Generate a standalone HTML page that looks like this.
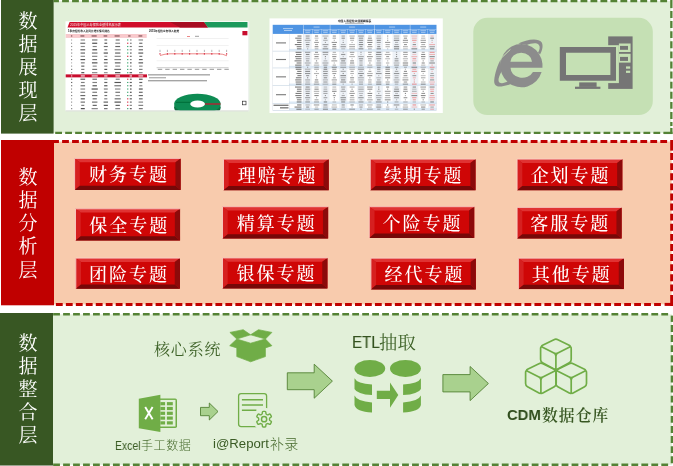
<!DOCTYPE html>
<html lang="zh"><head><meta charset="utf-8"><title>数据分层架构</title>
<style>
html,body{margin:0;padding:0;background:#fff}
body{width:673px;height:466px;position:relative;overflow:hidden;font-family:"Liberation Sans","Noto Sans CJK SC",sans-serif}
svg{position:absolute;left:0;top:0;display:block}
.sd,.bt,.tx{will-change:transform}
.sd{position:absolute;width:30px;height:23px;line-height:23px;text-align:center;color:#fff;font-size:19px;font-family:"Liberation Serif","Noto Serif CJK SC",serif;font-weight:400}
.bt{position:absolute;text-align:center;color:#fff;font-size:18px;font-family:"Liberation Serif","Noto Serif CJK SC",serif;font-weight:500;letter-spacing:2px;text-indent:2px;white-space:nowrap}
.tx{position:absolute;white-space:nowrap;line-height:1}
.song{font-family:"Liberation Serif","Noto Serif CJK SC",serif}
.lat{-webkit-text-stroke:0.18px currentColor}
.hei{font-family:"Liberation Sans","Noto Sans CJK SC",sans-serif}
</style></head><body>
<svg width="673" height="466" viewBox="0 0 673 466">
<rect x="53" y="1.1" width="618.35" height="131.8" fill="#E2F0D9"/>
<rect x="53" y="141.5" width="618.6" height="162.9" fill="#F8CBAD"/>
<rect x="53" y="314.35" width="618.85" height="150.45" fill="#E2F0D9"/>
<line x1="53.5" y1="1.1" x2="668.2" y2="1.1" stroke="#548235" stroke-width="2.4" stroke-dasharray="6.8 3.17" stroke-dashoffset="1.37"/>
<rect x="670.2" y="0" width="2.3" height="8.1" fill="#548235"/>
<line x1="671.35" y1="9" x2="671.35" y2="126" stroke="#548235" stroke-width="2.3" stroke-dasharray="6.9 3.2" stroke-dashoffset="8.1"/>
<line x1="53.5" y1="132.9" x2="664" y2="132.9" stroke="#548235" stroke-width="2.3" stroke-dasharray="6.8 3.17" stroke-dashoffset="8.27"/>
<rect x="664" y="131.75" width="8.5" height="2.3" fill="#548235"/>
<rect x="670.2" y="128" width="2.3" height="6" fill="#548235"/>
<line x1="53.5" y1="141.5" x2="669.2" y2="141.5" stroke="#C00000" stroke-width="3" stroke-dasharray="6.8 3.17" stroke-dashoffset="1.37"/>
<rect x="670.2" y="140" width="2.8" height="10.6" fill="#C00000"/>
<line x1="671.6" y1="152" x2="671.6" y2="294" stroke="#C00000" stroke-width="2.8" stroke-dasharray="6.9 3.2" stroke-dashoffset="9"/>
<line x1="53.5" y1="304.4" x2="663" y2="304.4" stroke="#C00000" stroke-width="3" stroke-dasharray="6.8 3.17" stroke-dashoffset="7.57"/>
<rect x="664.6" y="302.9" width="8.4" height="3" fill="#C00000"/>
<rect x="670.2" y="295" width="2.8" height="11" fill="#C00000"/>
<line x1="53" y1="314.35" x2="670.3" y2="314.35" stroke="#548235" stroke-width="2.5" stroke-dasharray="6.8 3.17" stroke-dashoffset="9.83"/>
<rect x="670.7" y="315.6" width="2.3" height="6.3" fill="#548235"/>
<line x1="671.85" y1="323" x2="671.85" y2="463.2" stroke="#548235" stroke-width="2.3" stroke-dasharray="6.9 3.2" stroke-dashoffset="8.1"/>
<line x1="53" y1="464.8" x2="670.2" y2="464.8" stroke="#548235" stroke-width="2.4" stroke-dasharray="6.8 3.17" stroke-dashoffset="9.83"/>
<rect x="1" y="0" width="52.6" height="133.6" fill="#385723"/>
<rect x="1" y="140" width="53" height="165.3" fill="#C00000"/>
<rect x="0" y="313" width="53" height="152.2" fill="#385723"/>
<rect x="0" y="465" width="53" height="1" fill="#9aa58f"/>
<rect x="473.3" y="17.8" width="179.5" height="97.2" rx="14" ry="14" fill="#C5E0B4"/>
<g fill="#757575">
<rect x="608.2" y="36.4" width="24.4" height="52.5"/>
</g>
<g fill="#C5E0B4">
<rect x="606" y="45.2" width="12.9" height="37.9"/>
<rect x="618.9" y="43.5" width="11.7" height="8.5"/>
<rect x="618.9" y="53.8" width="11.7" height="8.8"/>
<rect x="626" y="66.4" width="4.2" height="2.3"/>
<rect x="626" y="70.7" width="4.2" height="2.2"/>
</g>
<g fill="#757575">
<rect x="620" y="45.9" width="8" height="3.9"/>
<rect x="620" y="56.9" width="8" height="4"/>
<path d="M559.8 47H616V80.7H559.8Z M566 52.7V75H610.4V52.7Z" fill-rule="evenodd"/>
<rect x="579.2" y="82.4" width="17.4" height="4.5"/>
<rect x="575" y="86.7" width="25.4" height="2.2"/>
</g>
<g transform="translate(490 36) scale(0.12)" fill="#8C8C8C">
<path d="M437 265H172A97 78 0 0 0 358 300H430A176 180 0 1 1 437 232Z M170 215A90 75 0 0 1 350 215Z" fill-rule="evenodd"/>
<path d="M84 194L170 112" stroke="#C5E0B4" stroke-width="8" fill="none"/>
<path d="M235 62C300 30 400 12 430 52C446 78 436 120 418 152L400 140C415 110 420 88 406 72C388 54 340 60 308 76Z"/>
<path d="M88 195C65 240 40 310 35 370C32 410 55 425 95 420C135 415 170 405 200 392L150 378C125 392 95 400 78 388C62 372 75 335 95 298Z"/>
</g>
<g fill="#70AD47" stroke="#70AD47" stroke-width="0.7" stroke-linejoin="round">
<path d="M229.9 332.4L243.2 329.7L250.6 334.8L236.8 339Z"/>
<path d="M250.6 334.8L258.5 329.7L271.9 332.4L265.4 339Z"/>
<path d="M236.8 339L250.6 343.2L265.4 339L271.9 345.7L265.4 347.9V356.6L250.6 361.8L236.8 356.6V347.9L229.7 345.7Z"/>
</g>
<g>
<rect x="158" y="398.4" width="19" height="29.6" rx="1.8" fill="#70AD47"/>
<rect x="160" y="399.9" width="15.5" height="26.6" fill="#E2F0D9"/>
<rect x="160.4" y="402.1" width="4.7" height="3.2" fill="#70AD47"/>
<rect x="166.9" y="402.1" width="5.9" height="3.2" fill="#70AD47"/>
<rect x="160.4" y="406.9" width="4.7" height="3.2" fill="#70AD47"/>
<rect x="166.9" y="406.9" width="5.9" height="3.2" fill="#70AD47"/>
<rect x="160.4" y="411.7" width="4.7" height="3.2" fill="#70AD47"/>
<rect x="166.9" y="411.7" width="5.9" height="3.2" fill="#70AD47"/>
<rect x="160.4" y="416.5" width="4.7" height="3.2" fill="#70AD47"/>
<rect x="166.9" y="416.5" width="5.9" height="3.2" fill="#70AD47"/>
<rect x="160.4" y="421.3" width="4.7" height="3.2" fill="#70AD47"/>
<rect x="166.9" y="421.3" width="5.9" height="3.2" fill="#70AD47"/>
<path d="M138.8 398.7L160.4 394.7V432L138.8 428.2Z" fill="#70AD47"/>
<path d="M145.2 407L152.6 419.2M152.6 407L145.2 419.2" stroke="#fff" stroke-width="1.9" fill="none"/>
</g>
<path d="M200.5 407.4H209.3V403L218 411.5L209.3 420V415.7H200.5Z" fill="#A9D18E" stroke="#548235" stroke-width="0.9"/>
<g fill="none" stroke="#70AD47" stroke-width="1.3">
<rect x="238.6" y="393.6" width="28" height="33" rx="2.5"/>
<path d="M241.9 399.8H263M241.9 405H263M241.9 410.2H256.4" stroke-width="1.4"/>
</g>
<circle cx="264.1" cy="419.2" r="11.4" fill="#E2F0D9"/>
<path d="M262.35 412.29Q262.35 411.39 263.25 411.39L264.95 411.39Q265.85 411.39 265.85 412.29L265.85 413.09Q265.85 413.99 266.63 414.44L266.96 414.62Q267.74 415.07 268.52 414.63L269.21 414.23Q269.99 413.78 270.44 414.56L271.28 416.03Q271.73 416.81 270.96 417.26L270.27 417.66Q269.49 418.11 269.49 419.01L269.49 419.39Q269.49 420.29 270.27 420.74L270.96 421.14Q271.73 421.59 271.28 422.37L270.44 423.84Q269.99 424.62 269.21 424.17L268.52 423.77Q267.74 423.33 266.96 423.78L266.63 423.96Q265.85 424.41 265.85 425.31L265.85 426.11Q265.85 427.01 264.95 427.01L263.25 427.01Q262.35 427.01 262.35 426.11L262.35 425.31Q262.35 424.41 261.57 423.96L261.24 423.78Q260.46 423.33 259.68 423.77L258.99 424.17Q258.21 424.62 257.76 423.84L256.92 422.37Q256.47 421.59 257.24 421.14L257.93 420.74Q258.71 420.29 258.71 419.39L258.71 419.01Q258.71 418.11 257.93 417.66L257.24 417.26Q256.47 416.81 256.92 416.03L257.76 414.56Q258.21 413.78 258.99 414.23L259.68 414.63Q260.46 415.07 261.24 414.62L261.57 414.44Q262.35 413.99 262.35 413.09Z" fill="none" stroke="#70AD47" stroke-width="1.4" stroke-linejoin="round"/>
<circle cx="264.1" cy="419.2" r="2.6" fill="none" stroke="#70AD47" stroke-width="1.5"/>
<path d="M287.3 372.8H314.2V364.2L332.4 381.1L314.2 398.2V389.7H287.3Z" fill="#A9D18E" stroke="#548235" stroke-width="0.9"/>
<path d="M442.9 374.6H470.1V366.5L488.4 383.5L470.1 400.6V391.9H442.9Z" fill="#A9D18E" stroke="#548235" stroke-width="0.9"/>
<g fill="#70AD47">
<ellipse cx="369.85" cy="368.5" rx="15.35" ry="8.5"/>
<ellipse cx="405.45" cy="368.5" rx="15.45" ry="8.5"/>
<path d="M354.5 378.3 Q357 383.6 372 384.4 V395.1 Q357 394.2 354.5 389 Z"/>
<path d="M354.5 395.5 Q357 401.4 372 402.4 V412.6 Q356 411.6 354.5 405 Z"/>
<path d="M420.9 378.3 Q418.4 383.6 403.1 384.4 V395.1 Q418.4 394.2 420.9 389 Z"/>
<path d="M420.9 395.5 Q418.4 401.4 403.1 402.4 V412.6 Q419.4 411.6 420.9 405 Z"/>
<path d="M376.8 390.7H390V382.4L398.3 394.9L390 407.8V399H376.8Z"/>
</g>
<g fill="none" stroke="#70AD47" stroke-width="1.7" stroke-linejoin="round" stroke-linecap="round">
<path d="M553.92 339.67Q555.9 338.7 557.88 339.67L569.22 345.23Q571.2 346.2 569.24 347.2L557.86 353Q555.9 354 553.94 353L542.56 347.2Q540.6 346.2 542.58 345.23ZM540.6 348.4Q540.6 346.2 542.56 347.2L553.94 353Q555.9 354 555.9 356.2L555.9 367.8Q555.9 370 553.97 368.95L542.53 362.75Q540.6 361.7 540.6 359.5ZM555.9 356.2Q555.9 354 557.86 353L569.24 347.2Q571.2 346.2 571.2 348.4L571.2 359.5Q571.2 361.7 569.27 362.75L557.83 368.95Q555.9 370 555.9 367.8Z"/>
<path d="M538.92 363.67Q540.9 362.7 542.88 363.67L554.22 369.23Q556.2 370.2 554.24 371.2L542.86 377Q540.9 378 538.94 377L527.56 371.2Q525.6 370.2 527.58 369.23ZM525.6 372.4Q525.6 370.2 527.56 371.2L538.94 377Q540.9 378 540.9 380.2L540.9 391.8Q540.9 394 538.97 392.95L527.53 386.75Q525.6 385.7 525.6 383.5ZM540.9 380.2Q540.9 378 542.86 377L554.24 371.2Q556.2 370.2 556.2 372.4L556.2 383.5Q556.2 385.7 554.27 386.75L542.83 392.95Q540.9 394 540.9 391.8Z"/>
<path d="M569.22 363.67Q571.2 362.7 573.18 363.67L584.52 369.23Q586.5 370.2 584.54 371.2L573.16 377Q571.2 378 569.24 377L557.86 371.2Q555.9 370.2 557.88 369.23ZM555.9 372.4Q555.9 370.2 557.86 371.2L569.24 377Q571.2 378 571.2 380.2L571.2 391.8Q571.2 394 569.27 392.95L557.83 386.75Q555.9 385.7 555.9 383.5ZM571.2 380.2Q571.2 378 573.16 377L584.54 371.2Q586.5 370.2 586.5 372.4L586.5 383.5Q586.5 385.7 584.57 386.75L573.13 392.95Q571.2 394 571.2 391.8Z"/>
</g>
<g>
<rect x="74.6" y="158.4" width="106.05" height="31.6" fill="#CF0606"/>
<path d="M74.6 158.4H180.65L175.45 162.2H79.8Z" fill="#E03232"/>
<path d="M74.6 158.4L79.8 162.2V185.7L74.6 190Z" fill="#D62020"/>
<path d="M74.6 190L79.8 185.7H175.45L180.65 190Z" fill="#760808"/>
<path d="M180.65 158.4L175.45 162.2V185.7L180.65 190Z" fill="#8C0A0A"/>
<path d="M74.6 190V158.4H180.65" fill="none" stroke="#F9D3CB" stroke-width="0.9"/>
</g>
<g>
<rect x="223.5" y="159.1" width="105.25" height="31.1" fill="#CF0606"/>
<path d="M223.5 159.1H328.75L323.55 162.9H228.7Z" fill="#E03232"/>
<path d="M223.5 159.1L228.7 162.9V185.9L223.5 190.2Z" fill="#D62020"/>
<path d="M223.5 190.2L228.7 185.9H323.55L328.75 190.2Z" fill="#760808"/>
<path d="M328.75 159.1L323.55 162.9V185.9L328.75 190.2Z" fill="#8C0A0A"/>
<path d="M223.5 190.2V159.1H328.75" fill="none" stroke="#F9D3CB" stroke-width="0.9"/>
</g>
<g>
<rect x="370.3" y="159.1" width="105.25" height="31.1" fill="#CF0606"/>
<path d="M370.3 159.1H475.55L470.35 162.9H375.5Z" fill="#E03232"/>
<path d="M370.3 159.1L375.5 162.9V185.9L370.3 190.2Z" fill="#D62020"/>
<path d="M370.3 190.2L375.5 185.9H470.35L475.55 190.2Z" fill="#760808"/>
<path d="M475.55 159.1L470.35 162.9V185.9L475.55 190.2Z" fill="#8C0A0A"/>
<path d="M370.3 190.2V159.1H475.55" fill="none" stroke="#F9D3CB" stroke-width="0.9"/>
</g>
<g>
<rect x="517.1" y="159.1" width="105.25" height="31.1" fill="#CF0606"/>
<path d="M517.1 159.1H622.35L617.15 162.9H522.3Z" fill="#E03232"/>
<path d="M517.1 159.1L522.3 162.9V185.9L517.1 190.2Z" fill="#D62020"/>
<path d="M517.1 190.2L522.3 185.9H617.15L622.35 190.2Z" fill="#760808"/>
<path d="M622.35 159.1L617.15 162.9V185.9L622.35 190.2Z" fill="#8C0A0A"/>
<path d="M517.1 190.2V159.1H622.35" fill="none" stroke="#F9D3CB" stroke-width="0.9"/>
</g>
<g>
<rect x="75.5" y="208.8" width="104.55" height="31.7" fill="#CF0606"/>
<path d="M75.5 208.8H180.05L174.85 212.6H80.7Z" fill="#E03232"/>
<path d="M75.5 208.8L80.7 212.6V236.2L75.5 240.5Z" fill="#D62020"/>
<path d="M75.5 240.5L80.7 236.2H174.85L180.05 240.5Z" fill="#760808"/>
<path d="M180.05 208.8L174.85 212.6V236.2L180.05 240.5Z" fill="#8C0A0A"/>
<path d="M75.5 240.5V208.8H180.05" fill="none" stroke="#F9D3CB" stroke-width="0.9"/>
</g>
<g>
<rect x="222.5" y="206.7" width="105.65" height="31.8" fill="#CF0606"/>
<path d="M222.5 206.7H328.15L322.95 210.5H227.7Z" fill="#E03232"/>
<path d="M222.5 206.7L227.7 210.5V234.2L222.5 238.5Z" fill="#D62020"/>
<path d="M222.5 238.5L227.7 234.2H322.95L328.15 238.5Z" fill="#760808"/>
<path d="M328.15 206.7L322.95 210.5V234.2L328.15 238.5Z" fill="#8C0A0A"/>
<path d="M222.5 238.5V206.7H328.15" fill="none" stroke="#F9D3CB" stroke-width="0.9"/>
</g>
<g>
<rect x="369.3" y="206.7" width="104.95" height="31.2" fill="#CF0606"/>
<path d="M369.3 206.7H474.25L469.05 210.5H374.5Z" fill="#E03232"/>
<path d="M369.3 206.7L374.5 210.5V233.6L369.3 237.9Z" fill="#D62020"/>
<path d="M369.3 237.9L374.5 233.6H469.05L474.25 237.9Z" fill="#760808"/>
<path d="M474.25 206.7L469.05 210.5V233.6L474.25 237.9Z" fill="#8C0A0A"/>
<path d="M369.3 237.9V206.7H474.25" fill="none" stroke="#F9D3CB" stroke-width="0.9"/>
</g>
<g>
<rect x="517.1" y="207.4" width="104.55" height="31.1" fill="#CF0606"/>
<path d="M517.1 207.4H621.65L616.45 211.2H522.3Z" fill="#E03232"/>
<path d="M517.1 207.4L522.3 211.2V234.2L517.1 238.5Z" fill="#D62020"/>
<path d="M517.1 238.5L522.3 234.2H616.45L621.65 238.5Z" fill="#760808"/>
<path d="M621.65 207.4L616.45 211.2V234.2L621.65 238.5Z" fill="#8C0A0A"/>
<path d="M517.1 238.5V207.4H621.65" fill="none" stroke="#F9D3CB" stroke-width="0.9"/>
</g>
<g>
<rect x="75.8" y="258.1" width="104.15" height="30.6" fill="#CF0606"/>
<path d="M75.8 258.1H179.95L174.75 261.9H81Z" fill="#E03232"/>
<path d="M75.8 258.1L81 261.9V284.4L75.8 288.7Z" fill="#D62020"/>
<path d="M75.8 288.7L81 284.4H174.75L179.95 288.7Z" fill="#760808"/>
<path d="M179.95 258.1L174.75 261.9V284.4L179.95 288.7Z" fill="#8C0A0A"/>
<path d="M75.8 288.7V258.1H179.95" fill="none" stroke="#F9D3CB" stroke-width="0.9"/>
</g>
<g>
<rect x="222.5" y="257.9" width="104.95" height="30.5" fill="#CF0606"/>
<path d="M222.5 257.9H327.45L322.25 261.7H227.7Z" fill="#E03232"/>
<path d="M222.5 257.9L227.7 261.7V284.1L222.5 288.4Z" fill="#D62020"/>
<path d="M222.5 288.4L227.7 284.1H322.25L327.45 288.4Z" fill="#760808"/>
<path d="M327.45 257.9L322.25 261.7V284.1L327.45 288.4Z" fill="#8C0A0A"/>
<path d="M222.5 288.4V257.9H327.45" fill="none" stroke="#F9D3CB" stroke-width="0.9"/>
</g>
<g>
<rect x="370.9" y="258.2" width="104.95" height="31.2" fill="#CF0606"/>
<path d="M370.9 258.2H475.85L470.65 262H376.1Z" fill="#E03232"/>
<path d="M370.9 258.2L376.1 262V285.1L370.9 289.4Z" fill="#D62020"/>
<path d="M370.9 289.4L376.1 285.1H470.65L475.85 289.4Z" fill="#760808"/>
<path d="M475.85 258.2L470.65 262V285.1L475.85 289.4Z" fill="#8C0A0A"/>
<path d="M370.9 289.4V258.2H475.85" fill="none" stroke="#F9D3CB" stroke-width="0.9"/>
</g>
<g>
<rect x="518.4" y="258.2" width="105.55" height="30.9" fill="#CF0606"/>
<path d="M518.4 258.2H623.95L618.75 262H523.6Z" fill="#E03232"/>
<path d="M518.4 258.2L523.6 262V284.8L518.4 289.1Z" fill="#D62020"/>
<path d="M518.4 289.1L523.6 284.8H618.75L623.95 289.1Z" fill="#760808"/>
<path d="M623.95 258.2L618.75 262V284.8L623.95 289.1Z" fill="#8C0A0A"/>
<path d="M518.4 289.1V258.2H623.95" fill="none" stroke="#F9D3CB" stroke-width="0.9"/>
</g>
<filter id="bl" x="-2%" y="-2%" width="104%" height="104%"><feGaussianBlur stdDeviation="0.38"/></filter>
<g id="t1" filter="url(#bl)">
<rect x="65.5" y="21.3" width="183" height="90" fill="#fff"/>
<rect x="248" y="21.3" width="1.4" height="90" fill="#eef3ee"/>
<path d="M67.5 27.4L69.6 22H204L208 27.4Z" fill="#D0112B"/>
<path d="M170 22H204L208 27.4H180Z" fill="#A70D22"/>
<path d="M204 22H247.5V27.4H208Z" fill="#1F9A5B"/>
<text x="70" y="26" font-size="3.15" fill="#fff" opacity="0.9" font-family="Liberation Sans,Noto Sans CJK SC,sans-serif">2015年中国人寿保险业绩排名展示表</text>
<text x="68" y="31.8" font-size="2.7" font-weight="bold" fill="#222" font-family="Liberation Sans,Noto Sans CJK SC,sans-serif">1季度保险收入及同比增长情况排名</text>
<text x="149" y="31.8" font-size="2.7" font-weight="bold" fill="#222" font-family="Liberation Sans,Noto Sans CJK SC,sans-serif">2015年保险业务收入趋势</text>
<rect x="65.7" y="34" width="81" height="3.9" fill="#F8C9CC"/>
<rect x="70.95" y="35.2" width="1.32" height="1.5" fill="#7a4a4e" opacity="0.75"/>
<rect x="80.4" y="35.2" width="3.96" height="1.5" fill="#7a4a4e" opacity="0.75"/>
<rect x="91.6" y="35.2" width="5.08" height="1.5" fill="#7a4a4e" opacity="0.75"/>
<rect x="103.6" y="35.2" width="3.64" height="1.5" fill="#7a4a4e" opacity="0.75"/>
<rect x="114.6" y="35.2" width="5.08" height="1.5" fill="#7a4a4e" opacity="0.75"/>
<rect x="128.2" y="35.2" width="2.36" height="1.5" fill="#7a4a4e" opacity="0.75"/>
<rect x="138.5" y="35.2" width="3.8" height="1.5" fill="#7a4a4e" opacity="0.75"/>
<rect x="71.31" y="39.4" width="0.78" height="1.15" fill="#333" opacity="0.6"/>
<rect x="80.65" y="39.4" width="4.31" height="1.15" fill="#333" opacity="0.58"/>
<rect x="91.99" y="39.4" width="5.42" height="1.15" fill="#333" opacity="0.68"/>
<rect x="104.41" y="39.4" width="2.77" height="1.15" fill="#333" opacity="0.73"/>
<rect x="115.69" y="39.4" width="4.02" height="1.15" fill="#333" opacity="0.7"/>
<rect x="129.99" y="39.4" width="1.62" height="1.15" fill="#333" opacity="0.58"/>
<rect x="127.2" y="39.4" width="1.1" height="1.15" fill="#1f9a5b"/>
<rect x="138.57" y="39.4" width="4.45" height="1.15" fill="#333" opacity="0.59"/>
<rect x="71.33" y="42.67" width="0.73" height="1.15" fill="#333" opacity="0.77"/>
<rect x="80.33" y="42.67" width="4.93" height="1.15" fill="#333" opacity="0.75"/>
<rect x="92.18" y="42.67" width="5.03" height="1.15" fill="#333" opacity="0.89"/>
<rect x="104.43" y="42.67" width="2.75" height="1.15" fill="#333" opacity="0.85"/>
<rect x="115.33" y="42.67" width="4.73" height="1.15" fill="#333" opacity="0.6"/>
<rect x="129.97" y="42.67" width="1.67" height="1.15" fill="#333" opacity="0.66"/>
<rect x="127.2" y="42.67" width="1.1" height="1.15" fill="#d0112b"/>
<rect x="139.22" y="42.67" width="3.16" height="1.15" fill="#333" opacity="0.75"/>
<rect x="71.24" y="45.94" width="0.92" height="1.15" fill="#333" opacity="0.68"/>
<rect x="80.75" y="45.94" width="4.09" height="1.15" fill="#333" opacity="0.57"/>
<rect x="92.66" y="45.94" width="4.09" height="1.15" fill="#333" opacity="0.62"/>
<rect x="103.82" y="45.94" width="3.95" height="1.15" fill="#333" opacity="0.7"/>
<rect x="115.3" y="45.94" width="4.8" height="1.15" fill="#333" opacity="0.75"/>
<rect x="129.78" y="45.94" width="2.04" height="1.15" fill="#333" opacity="0.65"/>
<rect x="127.2" y="45.94" width="1.1" height="1.15" fill="#1f9a5b"/>
<rect x="138.7" y="45.94" width="4.2" height="1.15" fill="#333" opacity="0.64"/>
<rect x="71.26" y="49.21" width="0.89" height="1.15" fill="#333" opacity="0.73"/>
<rect x="80.41" y="49.21" width="4.78" height="1.15" fill="#333" opacity="0.81"/>
<rect x="92.34" y="49.21" width="4.73" height="1.15" fill="#333" opacity="0.89"/>
<rect x="104.36" y="49.21" width="2.88" height="1.15" fill="#333" opacity="0.7"/>
<rect x="114.68" y="49.21" width="6.04" height="1.15" fill="#333" opacity="0.6"/>
<rect x="129.76" y="49.21" width="2.08" height="1.15" fill="#333" opacity="0.56"/>
<rect x="127.2" y="49.21" width="1.1" height="1.15" fill="#1f9a5b"/>
<rect x="138.64" y="49.21" width="4.33" height="1.15" fill="#333" opacity="0.75"/>
<rect x="71.19" y="52.48" width="1.02" height="1.15" fill="#333" opacity="0.66"/>
<rect x="80.6" y="52.48" width="4.4" height="1.15" fill="#333" opacity="0.76"/>
<rect x="91.93" y="52.48" width="5.54" height="1.15" fill="#333" opacity="0.71"/>
<rect x="103.67" y="52.48" width="4.26" height="1.15" fill="#333" opacity="0.88"/>
<rect x="115.08" y="52.48" width="5.25" height="1.15" fill="#333" opacity="0.78"/>
<rect x="130" y="52.48" width="1.61" height="1.15" fill="#333" opacity="0.8"/>
<rect x="127.2" y="52.48" width="1.1" height="1.15" fill="#1f9a5b"/>
<rect x="138.41" y="52.48" width="4.79" height="1.15" fill="#333" opacity="0.84"/>
<rect x="71.32" y="55.75" width="0.76" height="1.15" fill="#333" opacity="0.69"/>
<rect x="80.63" y="55.75" width="4.34" height="1.15" fill="#333" opacity="0.56"/>
<rect x="92.09" y="55.75" width="5.21" height="1.15" fill="#333" opacity="0.61"/>
<rect x="104.36" y="55.75" width="2.88" height="1.15" fill="#333" opacity="0.57"/>
<rect x="114.66" y="55.75" width="6.07" height="1.15" fill="#333" opacity="0.6"/>
<rect x="129.89" y="55.75" width="1.81" height="1.15" fill="#333" opacity="0.69"/>
<rect x="127.2" y="55.75" width="1.1" height="1.15" fill="#d0112b"/>
<rect x="139.32" y="55.75" width="2.96" height="1.15" fill="#333" opacity="0.71"/>
<rect x="71.26" y="59.02" width="0.88" height="1.15" fill="#333" opacity="0.86"/>
<rect x="80.47" y="59.02" width="4.66" height="1.15" fill="#333" opacity="0.85"/>
<rect x="92.35" y="59.02" width="4.7" height="1.15" fill="#333" opacity="0.7"/>
<rect x="104.13" y="59.02" width="3.34" height="1.15" fill="#333" opacity="0.86"/>
<rect x="114.4" y="59.02" width="6.6" height="1.15" fill="#333" opacity="0.6"/>
<rect x="129.93" y="59.02" width="1.73" height="1.15" fill="#333" opacity="0.63"/>
<rect x="127.2" y="59.02" width="1.1" height="1.15" fill="#1f9a5b"/>
<rect x="138.92" y="59.02" width="3.77" height="1.15" fill="#333" opacity="0.76"/>
<rect x="71.33" y="62.29" width="0.75" height="1.15" fill="#333" opacity="0.55"/>
<rect x="80.89" y="62.29" width="3.82" height="1.15" fill="#333" opacity="0.68"/>
<rect x="91.95" y="62.29" width="5.51" height="1.15" fill="#333" opacity="0.88"/>
<rect x="103.81" y="62.29" width="3.97" height="1.15" fill="#333" opacity="0.73"/>
<rect x="114.88" y="62.29" width="5.65" height="1.15" fill="#333" opacity="0.79"/>
<rect x="130" y="62.29" width="1.6" height="1.15" fill="#333" opacity="0.86"/>
<rect x="127.2" y="62.29" width="1.1" height="1.15" fill="#1f9a5b"/>
<rect x="138.53" y="62.29" width="4.55" height="1.15" fill="#333" opacity="0.83"/>
<rect x="71.3" y="65.56" width="0.81" height="1.15" fill="#333" opacity="0.69"/>
<rect x="81.22" y="65.56" width="3.16" height="1.15" fill="#333" opacity="0.77"/>
<rect x="92.65" y="65.56" width="4.09" height="1.15" fill="#333" opacity="0.57"/>
<rect x="104.27" y="65.56" width="3.06" height="1.15" fill="#333" opacity="0.61"/>
<rect x="115.26" y="65.56" width="4.87" height="1.15" fill="#333" opacity="0.57"/>
<rect x="130.03" y="65.56" width="1.54" height="1.15" fill="#333" opacity="0.6"/>
<rect x="127.2" y="65.56" width="1.1" height="1.15" fill="#1f9a5b"/>
<rect x="139.04" y="65.56" width="3.53" height="1.15" fill="#333" opacity="0.56"/>
<rect x="71.19" y="68.83" width="1.02" height="1.15" fill="#333" opacity="0.76"/>
<rect x="81.17" y="68.83" width="3.25" height="1.15" fill="#333" opacity="0.64"/>
<rect x="92.25" y="68.83" width="4.89" height="1.15" fill="#333" opacity="0.68"/>
<rect x="104.35" y="68.83" width="2.89" height="1.15" fill="#333" opacity="0.85"/>
<rect x="114.35" y="68.83" width="6.7" height="1.15" fill="#333" opacity="0.71"/>
<rect x="129.76" y="68.83" width="2.07" height="1.15" fill="#333" opacity="0.58"/>
<rect x="127.2" y="68.83" width="1.1" height="1.15" fill="#1f9a5b"/>
<rect x="139.06" y="68.83" width="3.49" height="1.15" fill="#333" opacity="0.64"/>
<rect x="71.2" y="72.1" width="1" height="1.15" fill="#333" opacity="0.61"/>
<rect x="81.31" y="72.1" width="2.99" height="1.15" fill="#333" opacity="0.88"/>
<rect x="92" y="72.1" width="5.4" height="1.15" fill="#333" opacity="0.6"/>
<rect x="103.95" y="72.1" width="3.69" height="1.15" fill="#333" opacity="0.56"/>
<rect x="115" y="72.1" width="5.4" height="1.15" fill="#333" opacity="0.89"/>
<rect x="129.56" y="72.1" width="2.49" height="1.15" fill="#333" opacity="0.79"/>
<rect x="127.2" y="72.1" width="1.1" height="1.15" fill="#1f9a5b"/>
<rect x="139.03" y="72.1" width="3.53" height="1.15" fill="#333" opacity="0.61"/>
<rect x="65.7" y="74.37" width="81.3" height="3" fill="#C8102E"/>
<rect x="71.21" y="75.37" width="0.98" height="1.15" fill="#fff" opacity="0.9"/>
<rect x="80.77" y="75.37" width="4.06" height="1.15" fill="#fff" opacity="0.9"/>
<rect x="91.65" y="75.37" width="6.1" height="1.15" fill="#fff" opacity="0.9"/>
<rect x="104.16" y="75.37" width="3.29" height="1.15" fill="#fff" opacity="0.9"/>
<rect x="115.43" y="75.37" width="4.54" height="1.15" fill="#fff" opacity="0.9"/>
<rect x="129.58" y="75.37" width="2.43" height="1.15" fill="#fff" opacity="0.9"/>
<rect x="138.42" y="75.37" width="4.77" height="1.15" fill="#fff" opacity="0.9"/>
<rect x="71.19" y="78.64" width="1.01" height="1.15" fill="#333" opacity="0.83"/>
<rect x="80.47" y="78.64" width="4.66" height="1.15" fill="#333" opacity="0.81"/>
<rect x="92.42" y="78.64" width="4.55" height="1.15" fill="#333" opacity="0.73"/>
<rect x="104.13" y="78.64" width="3.34" height="1.15" fill="#333" opacity="0.56"/>
<rect x="115.7" y="78.64" width="4" height="1.15" fill="#333" opacity="0.65"/>
<rect x="129.89" y="78.64" width="1.83" height="1.15" fill="#333" opacity="0.79"/>
<rect x="127.2" y="78.64" width="1.1" height="1.15" fill="#d0112b"/>
<rect x="138.95" y="78.64" width="3.69" height="1.15" fill="#333" opacity="0.88"/>
<rect x="71.16" y="81.91" width="1.07" height="1.15" fill="#333" opacity="0.88"/>
<rect x="80.95" y="81.91" width="3.71" height="1.15" fill="#333" opacity="0.63"/>
<rect x="92.42" y="81.91" width="4.56" height="1.15" fill="#333" opacity="0.62"/>
<rect x="104.28" y="81.91" width="3.05" height="1.15" fill="#333" opacity="0.77"/>
<rect x="114.48" y="81.91" width="6.44" height="1.15" fill="#333" opacity="0.84"/>
<rect x="129.77" y="81.91" width="2.07" height="1.15" fill="#333" opacity="0.78"/>
<rect x="127.2" y="81.91" width="1.1" height="1.15" fill="#1f9a5b"/>
<rect x="139.32" y="81.91" width="2.97" height="1.15" fill="#333" opacity="0.78"/>
<rect x="71.18" y="85.18" width="1.04" height="1.15" fill="#333" opacity="0.82"/>
<rect x="80.54" y="85.18" width="4.52" height="1.15" fill="#333" opacity="0.72"/>
<rect x="92.49" y="85.18" width="4.42" height="1.15" fill="#333" opacity="0.83"/>
<rect x="104.15" y="85.18" width="3.29" height="1.15" fill="#333" opacity="0.83"/>
<rect x="114.38" y="85.18" width="6.64" height="1.15" fill="#333" opacity="0.69"/>
<rect x="129.81" y="85.18" width="1.98" height="1.15" fill="#333" opacity="0.88"/>
<rect x="127.2" y="85.18" width="1.1" height="1.15" fill="#1f9a5b"/>
<rect x="139.23" y="85.18" width="3.14" height="1.15" fill="#333" opacity="0.59"/>
<rect x="71.35" y="88.45" width="0.7" height="1.15" fill="#333" opacity="0.87"/>
<rect x="80.48" y="88.45" width="4.63" height="1.15" fill="#333" opacity="0.6"/>
<rect x="91.58" y="88.45" width="6.23" height="1.15" fill="#333" opacity="0.89"/>
<rect x="103.85" y="88.45" width="3.91" height="1.15" fill="#333" opacity="0.67"/>
<rect x="114.97" y="88.45" width="5.46" height="1.15" fill="#333" opacity="0.6"/>
<rect x="130.02" y="88.45" width="1.56" height="1.15" fill="#333" opacity="0.89"/>
<rect x="127.2" y="88.45" width="1.1" height="1.15" fill="#1f9a5b"/>
<rect x="138.87" y="88.45" width="3.85" height="1.15" fill="#333" opacity="0.88"/>
<rect x="71.29" y="91.72" width="0.83" height="1.15" fill="#333" opacity="0.86"/>
<rect x="80.46" y="91.72" width="4.67" height="1.15" fill="#333" opacity="0.62"/>
<rect x="92.39" y="91.72" width="4.63" height="1.15" fill="#333" opacity="0.65"/>
<rect x="104.24" y="91.72" width="3.12" height="1.15" fill="#333" opacity="0.76"/>
<rect x="115.38" y="91.72" width="4.65" height="1.15" fill="#333" opacity="0.7"/>
<rect x="129.96" y="91.72" width="1.68" height="1.15" fill="#333" opacity="0.87"/>
<rect x="127.2" y="91.72" width="1.1" height="1.15" fill="#1f9a5b"/>
<rect x="138.94" y="91.72" width="3.72" height="1.15" fill="#333" opacity="0.75"/>
<rect x="71.18" y="94.99" width="1.04" height="1.15" fill="#333" opacity="0.7"/>
<rect x="80.37" y="94.99" width="4.87" height="1.15" fill="#333" opacity="0.73"/>
<rect x="92" y="94.99" width="5.41" height="1.15" fill="#333" opacity="0.73"/>
<rect x="104.45" y="94.99" width="2.7" height="1.15" fill="#333" opacity="0.7"/>
<rect x="115.48" y="94.99" width="4.43" height="1.15" fill="#333" opacity="0.55"/>
<rect x="129.59" y="94.99" width="2.42" height="1.15" fill="#333" opacity="0.61"/>
<rect x="127.2" y="94.99" width="1.1" height="1.15" fill="#1f9a5b"/>
<rect x="138.67" y="94.99" width="4.25" height="1.15" fill="#333" opacity="0.74"/>
<rect x="71.31" y="98.26" width="0.78" height="1.15" fill="#333" opacity="0.73"/>
<rect x="80.75" y="98.26" width="4.11" height="1.15" fill="#333" opacity="0.82"/>
<rect x="92.59" y="98.26" width="4.22" height="1.15" fill="#333" opacity="0.75"/>
<rect x="104.23" y="98.26" width="3.13" height="1.15" fill="#333" opacity="0.65"/>
<rect x="114.66" y="98.26" width="6.08" height="1.15" fill="#333" opacity="0.73"/>
<rect x="129.72" y="98.26" width="2.16" height="1.15" fill="#333" opacity="0.82"/>
<rect x="127.2" y="98.26" width="1.1" height="1.15" fill="#d0112b"/>
<rect x="138.96" y="98.26" width="3.69" height="1.15" fill="#333" opacity="0.76"/>
<rect x="71.27" y="101.53" width="0.86" height="1.15" fill="#333" opacity="0.73"/>
<rect x="80.6" y="101.53" width="4.39" height="1.15" fill="#333" opacity="0.71"/>
<rect x="91.99" y="101.53" width="5.41" height="1.15" fill="#333" opacity="0.72"/>
<rect x="103.58" y="101.53" width="4.45" height="1.15" fill="#333" opacity="0.79"/>
<rect x="114.51" y="101.53" width="6.37" height="1.15" fill="#333" opacity="0.88"/>
<rect x="129.89" y="101.53" width="1.83" height="1.15" fill="#333" opacity="0.75"/>
<rect x="127.2" y="101.53" width="1.1" height="1.15" fill="#d0112b"/>
<rect x="138.56" y="101.53" width="4.48" height="1.15" fill="#333" opacity="0.6"/>
<rect x="71.36" y="104.8" width="0.68" height="1.15" fill="#333" opacity="0.7"/>
<rect x="81.25" y="104.8" width="3.09" height="1.15" fill="#333" opacity="0.63"/>
<rect x="92.64" y="104.8" width="4.12" height="1.15" fill="#333" opacity="0.78"/>
<rect x="103.73" y="104.8" width="4.15" height="1.15" fill="#333" opacity="0.86"/>
<rect x="115.52" y="104.8" width="4.35" height="1.15" fill="#333" opacity="0.8"/>
<rect x="129.67" y="104.8" width="2.27" height="1.15" fill="#333" opacity="0.6"/>
<rect x="127.2" y="104.8" width="1.1" height="1.15" fill="#d0112b"/>
<rect x="138.43" y="104.8" width="4.74" height="1.15" fill="#333" opacity="0.63"/>
<rect x="71.17" y="108.07" width="1.06" height="1.15" fill="#333" opacity="0.69"/>
<rect x="80.82" y="108.07" width="3.96" height="1.15" fill="#333" opacity="0.9"/>
<rect x="91.57" y="108.07" width="6.25" height="1.15" fill="#333" opacity="0.61"/>
<rect x="104.06" y="108.07" width="3.48" height="1.15" fill="#333" opacity="0.73"/>
<rect x="115.27" y="108.07" width="4.87" height="1.15" fill="#333" opacity="0.62"/>
<rect x="129.85" y="108.07" width="1.89" height="1.15" fill="#333" opacity="0.8"/>
<rect x="127.2" y="108.07" width="1.1" height="1.15" fill="#1f9a5b"/>
<rect x="138.85" y="108.07" width="3.91" height="1.15" fill="#333" opacity="0.7"/>
<rect x="156.6" y="38.4" width="72" height="0.4" fill="#ddd"/>
<rect x="156.6" y="45" width="72" height="0.4" fill="#ddd"/>
<rect x="156.6" y="60.7" width="72" height="0.4" fill="#ddd"/>
<rect x="156.6" y="67.6" width="72" height="0.5" fill="#999"/>
<path d="M160 55.5Q165 53.8 170 53.8H218Q223 53.8 227 55.8" fill="none" stroke="#E03A3A" stroke-width="0.6"/>
<rect x="159.4" y="53.3" width="1.2" height="1.2" fill="#D0112B"/>
<rect x="159.5" y="49.8" width="1" height="2.2" fill="#888" opacity="0.6"/>
<rect x="157.8" y="68.8" width="4.4" height="1.1" fill="#666" opacity="0.6"/>
<rect x="166.8" y="53.3" width="1.2" height="1.2" fill="#D0112B"/>
<rect x="166.9" y="49.8" width="1" height="2.2" fill="#888" opacity="0.6"/>
<rect x="165.2" y="68.8" width="4.4" height="1.1" fill="#666" opacity="0.6"/>
<rect x="174.2" y="53.3" width="1.2" height="1.2" fill="#D0112B"/>
<rect x="174.3" y="49.8" width="1" height="2.2" fill="#888" opacity="0.6"/>
<rect x="172.6" y="68.8" width="4.4" height="1.1" fill="#666" opacity="0.6"/>
<rect x="181.6" y="53.3" width="1.2" height="1.2" fill="#D0112B"/>
<rect x="181.7" y="49.8" width="1" height="2.2" fill="#888" opacity="0.6"/>
<rect x="180" y="68.8" width="4.4" height="1.1" fill="#666" opacity="0.6"/>
<rect x="189" y="53.3" width="1.2" height="1.2" fill="#D0112B"/>
<rect x="189.1" y="49.8" width="1" height="2.2" fill="#888" opacity="0.6"/>
<rect x="187.4" y="68.8" width="4.4" height="1.1" fill="#666" opacity="0.6"/>
<rect x="196.4" y="53.3" width="1.2" height="1.2" fill="#D0112B"/>
<rect x="196.5" y="49.8" width="1" height="2.2" fill="#888" opacity="0.6"/>
<rect x="194.8" y="68.8" width="4.4" height="1.1" fill="#666" opacity="0.6"/>
<rect x="203.8" y="53.3" width="1.2" height="1.2" fill="#D0112B"/>
<rect x="203.9" y="49.8" width="1" height="2.2" fill="#888" opacity="0.6"/>
<rect x="202.2" y="68.8" width="4.4" height="1.1" fill="#666" opacity="0.6"/>
<rect x="211.2" y="53.3" width="1.2" height="1.2" fill="#D0112B"/>
<rect x="211.3" y="49.8" width="1" height="2.2" fill="#888" opacity="0.6"/>
<rect x="209.6" y="68.8" width="4.4" height="1.1" fill="#666" opacity="0.6"/>
<rect x="218.6" y="53.3" width="1.2" height="1.2" fill="#D0112B"/>
<rect x="218.7" y="49.8" width="1" height="2.2" fill="#888" opacity="0.6"/>
<rect x="217" y="68.8" width="4.4" height="1.1" fill="#666" opacity="0.6"/>
<rect x="226" y="53.3" width="1.2" height="1.2" fill="#D0112B"/>
<rect x="226.1" y="49.8" width="1" height="2.2" fill="#888" opacity="0.6"/>
<rect x="224.4" y="68.8" width="4.4" height="1.1" fill="#666" opacity="0.6"/>
<rect x="187" y="36" width="3" height="0.6" fill="#E03A3A"/><rect x="195" y="35.8" width="4" height="1" fill="#777" opacity="0.7"/>
<rect x="242.4" y="31" width="5" height="4.3" fill="#C8102E"/>
<rect x="148" y="74.3" width="62" height="1.1" fill="#444" opacity="0.6"/>
<rect x="149" y="77.2" width="17" height="1.1" fill="#444" opacity="0.5"/>
<rect x="148" y="80.2" width="59" height="1.1" fill="#444" opacity="0.6"/>
<clipPath id="c1"><rect x="65.5" y="21.3" width="183" height="89.2"/></clipPath>
<g clip-path="url(#c1)">
<ellipse cx="197.4" cy="107.5" rx="23.3" ry="10.5" fill="#0A6E40"/>
<ellipse cx="197.4" cy="104" rx="23.3" ry="10.3" fill="#0F8B52"/>
<ellipse cx="197.6" cy="104" rx="7.4" ry="3.5" fill="#fff"/>
<rect x="205" y="103.4" width="15.5" height="1.2" fill="#D0112B"/>
<rect x="176" y="101.8" width="14" height="1" fill="#063" opacity="0.8"/>
</g>
<rect x="242.4" y="101.2" width="3.6" height="3.6" fill="#fff" stroke="#333" stroke-width="0.7"/>
<rect x="65.5" y="110.5" width="183" height="0.9" fill="#cfd6cc"/>
<rect x="97" y="20.3" width="14" height="1" fill="#cfe3ea"/>
</g>
<g id="t2" filter="url(#bl)">
<rect x="269.5" y="18.4" width="173.3" height="94.6" fill="#fff"/>
<text x="354.6" y="22" font-size="2.8" font-weight="bold" text-anchor="middle" fill="#111" font-family="Liberation Sans,Noto Sans CJK SC,sans-serif">中国人寿保险业绩明细报表</text>
<rect x="345" y="22.8" width="19" height="0.8" fill="#555" opacity="0.6"/>
<rect x="272.7" y="24.8" width="163.8" height="9.1" fill="#4F94E3"/>
<rect x="283" y="28.2" width="10" height="0.9" fill="#fff" opacity="0.6"/><rect x="284" y="30" width="8" height="0.9" fill="#fff" opacity="0.6"/>
<rect x="303.2" y="29.3" width="0.35" height="4.6" fill="#fff" opacity="0.8"/>
<rect x="304.8" y="30.3" width="5.69" height="0.9" fill="#fff" opacity="0.55"/>
<rect x="305.4" y="31.9" width="4.49" height="0.9" fill="#fff" opacity="0.5"/>
<rect x="312.09" y="29.3" width="0.35" height="4.6" fill="#fff" opacity="0.8"/>
<rect x="313.69" y="30.3" width="5.69" height="0.9" fill="#fff" opacity="0.55"/>
<rect x="314.29" y="31.9" width="4.49" height="0.9" fill="#fff" opacity="0.5"/>
<rect x="320.98" y="29.3" width="0.35" height="4.6" fill="#fff" opacity="0.8"/>
<rect x="322.58" y="30.3" width="5.69" height="0.9" fill="#fff" opacity="0.55"/>
<rect x="323.18" y="31.9" width="4.49" height="0.9" fill="#fff" opacity="0.5"/>
<rect x="329.87" y="29.3" width="0.35" height="4.6" fill="#fff" opacity="0.8"/>
<rect x="331.47" y="30.3" width="5.69" height="0.9" fill="#fff" opacity="0.55"/>
<rect x="332.07" y="31.9" width="4.49" height="0.9" fill="#fff" opacity="0.5"/>
<rect x="338.76" y="29.3" width="0.35" height="4.6" fill="#fff" opacity="0.8"/>
<rect x="340.36" y="30.3" width="5.69" height="0.9" fill="#fff" opacity="0.55"/>
<rect x="340.96" y="31.9" width="4.49" height="0.9" fill="#fff" opacity="0.5"/>
<rect x="347.65" y="29.3" width="0.35" height="4.6" fill="#fff" opacity="0.8"/>
<rect x="349.25" y="30.3" width="5.69" height="0.9" fill="#fff" opacity="0.55"/>
<rect x="349.85" y="31.9" width="4.49" height="0.9" fill="#fff" opacity="0.5"/>
<rect x="356.54" y="29.3" width="0.35" height="4.6" fill="#fff" opacity="0.8"/>
<rect x="358.14" y="30.3" width="5.69" height="0.9" fill="#fff" opacity="0.55"/>
<rect x="358.74" y="31.9" width="4.49" height="0.9" fill="#fff" opacity="0.5"/>
<rect x="365.43" y="29.3" width="0.35" height="4.6" fill="#fff" opacity="0.8"/>
<rect x="367.03" y="30.3" width="5.69" height="0.9" fill="#fff" opacity="0.55"/>
<rect x="367.63" y="31.9" width="4.49" height="0.9" fill="#fff" opacity="0.5"/>
<rect x="374.32" y="29.3" width="0.35" height="4.6" fill="#fff" opacity="0.8"/>
<rect x="375.92" y="30.3" width="5.69" height="0.9" fill="#fff" opacity="0.55"/>
<rect x="376.52" y="31.9" width="4.49" height="0.9" fill="#fff" opacity="0.5"/>
<rect x="383.21" y="29.3" width="0.35" height="4.6" fill="#fff" opacity="0.8"/>
<rect x="384.81" y="30.3" width="5.69" height="0.9" fill="#fff" opacity="0.55"/>
<rect x="385.41" y="31.9" width="4.49" height="0.9" fill="#fff" opacity="0.5"/>
<rect x="392.1" y="29.3" width="0.35" height="4.6" fill="#fff" opacity="0.8"/>
<rect x="393.7" y="30.3" width="5.69" height="0.9" fill="#fff" opacity="0.55"/>
<rect x="394.3" y="31.9" width="4.49" height="0.9" fill="#fff" opacity="0.5"/>
<rect x="400.99" y="29.3" width="0.35" height="4.6" fill="#fff" opacity="0.8"/>
<rect x="402.59" y="30.3" width="5.69" height="0.9" fill="#fff" opacity="0.55"/>
<rect x="403.19" y="31.9" width="4.49" height="0.9" fill="#fff" opacity="0.5"/>
<rect x="409.88" y="29.3" width="0.35" height="4.6" fill="#fff" opacity="0.8"/>
<rect x="411.48" y="30.3" width="5.69" height="0.9" fill="#fff" opacity="0.55"/>
<rect x="412.08" y="31.9" width="4.49" height="0.9" fill="#fff" opacity="0.5"/>
<rect x="418.77" y="29.3" width="0.35" height="4.6" fill="#fff" opacity="0.8"/>
<rect x="420.37" y="30.3" width="5.69" height="0.9" fill="#fff" opacity="0.55"/>
<rect x="420.97" y="31.9" width="4.49" height="0.9" fill="#fff" opacity="0.5"/>
<rect x="427.66" y="29.3" width="0.35" height="4.6" fill="#fff" opacity="0.8"/>
<rect x="429.26" y="30.3" width="5.69" height="0.9" fill="#fff" opacity="0.55"/>
<rect x="429.86" y="31.9" width="4.49" height="0.9" fill="#fff" opacity="0.5"/>
<rect x="303.2" y="24.8" width="0.4" height="9.1" fill="#fff" opacity="0.9"/>
<rect x="329.87" y="24.8" width="0.4" height="9.1" fill="#fff" opacity="0.9"/>
<rect x="374.32" y="24.8" width="0.4" height="9.1" fill="#fff" opacity="0.9"/>
<rect x="409.88" y="24.8" width="0.4" height="9.1" fill="#fff" opacity="0.9"/>
<rect x="313.53" y="26.6" width="6" height="0.9" fill="#fff" opacity="0.55"/>
<rect x="303.2" y="29" width="26.67" height="0.35" fill="#fff" opacity="0.8"/>
<rect x="349.1" y="26.6" width="6" height="0.9" fill="#fff" opacity="0.55"/>
<rect x="329.87" y="29" width="44.45" height="0.35" fill="#fff" opacity="0.8"/>
<rect x="389.1" y="26.6" width="6" height="0.9" fill="#fff" opacity="0.55"/>
<rect x="374.32" y="29" width="35.56" height="0.35" fill="#fff" opacity="0.8"/>
<rect x="420.21" y="26.6" width="6" height="0.9" fill="#fff" opacity="0.55"/>
<rect x="409.88" y="29" width="26.67" height="0.35" fill="#fff" opacity="0.8"/>
<rect x="303.6" y="34" width="8.09" height="76.2" fill="#EEF2F7"/>
<rect x="321.38" y="34" width="8.09" height="76.2" fill="#EEF2F7"/>
<rect x="339.16" y="34" width="8.09" height="76.2" fill="#EEF2F7"/>
<rect x="356.94" y="34" width="8.09" height="76.2" fill="#EEF2F7"/>
<rect x="374.72" y="34" width="8.09" height="76.2" fill="#EEF2F7"/>
<rect x="392.5" y="34" width="8.09" height="76.2" fill="#EEF2F7"/>
<rect x="410.28" y="34" width="8.09" height="76.2" fill="#EEF2F7"/>
<rect x="428.06" y="34" width="8.09" height="76.2" fill="#EEF2F7"/>
<rect x="272.7" y="50.9" width="163.8" height="0.35" fill="#9bb3cc"/>
<rect x="289" y="48.9" width="147.5" height="2" fill="#DCE9F6"/>
<rect x="276" y="42.35" width="10" height="1.1" fill="#333" opacity="0.65"/>
<rect x="297.45" y="35.5" width="4.05" height="1.1" fill="#444" opacity="0.7"/>
<rect x="305.68" y="35.5" width="3.92" height="1.1" fill="#555" opacity="0.57"/>
<rect x="314.97" y="35.5" width="3.13" height="1.1" fill="#555" opacity="0.69"/>
<rect x="322.52" y="35.5" width="5.81" height="1.1" fill="#555" opacity="0.39"/>
<rect x="332.78" y="35.5" width="3.06" height="1.1" fill="#555" opacity="0.62"/>
<rect x="341.54" y="35.5" width="3.33" height="1.1" fill="#555" opacity="0.5"/>
<rect x="349.42" y="35.5" width="5.36" height="1.1" fill="#555" opacity="0.44"/>
<rect x="358.16" y="35.5" width="5.65" height="1.1" fill="#555" opacity="0.55"/>
<rect x="368.27" y="35.5" width="3.21" height="1.1" fill="#555" opacity="0.37"/>
<rect x="376.67" y="35.5" width="4.2" height="1.1" fill="#555" opacity="0.38"/>
<rect x="387.05" y="35.5" width="1.2" height="1.1" fill="#555" opacity="0.63"/>
<rect x="393.81" y="35.5" width="5.47" height="1.1" fill="#555" opacity="0.37"/>
<rect x="403.29" y="35.5" width="4.28" height="1.1" fill="#555" opacity="0.47"/>
<rect x="411.49" y="35.5" width="5.67" height="1.1" fill="#E86A6A" opacity="0.4"/>
<rect x="421.39" y="35.5" width="3.65" height="1.1" fill="#555" opacity="0.39"/>
<rect x="430.56" y="35.5" width="3.09" height="1.1" fill="#E86A6A" opacity="0.46"/>
<rect x="295.22" y="37.63" width="6.28" height="1.1" fill="#444" opacity="0.7"/>
<rect x="305.75" y="37.63" width="3.8" height="1.1" fill="#555" opacity="0.53"/>
<rect x="314.55" y="37.63" width="3.97" height="1.1" fill="#555" opacity="0.36"/>
<rect x="323.93" y="37.63" width="2.99" height="1.1" fill="#555" opacity="0.61"/>
<rect x="332.56" y="37.63" width="3.5" height="1.1" fill="#555" opacity="0.52"/>
<rect x="341.58" y="37.63" width="3.26" height="1.1" fill="#555" opacity="0.64"/>
<rect x="349.89" y="37.63" width="4.4" height="1.1" fill="#555" opacity="0.64"/>
<rect x="358.77" y="37.63" width="4.44" height="1.1" fill="#555" opacity="0.59"/>
<rect x="367.9" y="37.63" width="3.95" height="1.1" fill="#555" opacity="0.64"/>
<rect x="376.36" y="37.63" width="4.82" height="1.1" fill="#555" opacity="0.49"/>
<rect x="387.05" y="37.63" width="1.2" height="1.1" fill="#555" opacity="0.4"/>
<rect x="393.98" y="37.63" width="5.13" height="1.1" fill="#555" opacity="0.44"/>
<rect x="403.84" y="37.63" width="3.19" height="1.1" fill="#555" opacity="0.64"/>
<rect x="411.87" y="37.63" width="4.92" height="1.1" fill="#E86A6A" opacity="0.43"/>
<rect x="421.07" y="37.63" width="4.3" height="1.1" fill="#555" opacity="0.41"/>
<rect x="430.24" y="37.63" width="3.72" height="1.1" fill="#555" opacity="0.69"/>
<rect x="296.77" y="39.76" width="4.73" height="1.1" fill="#444" opacity="0.7"/>
<rect x="304.75" y="39.76" width="5.79" height="1.1" fill="#555" opacity="0.46"/>
<rect x="315.06" y="39.76" width="2.95" height="1.1" fill="#555" opacity="0.48"/>
<rect x="323.21" y="39.76" width="4.43" height="1.1" fill="#555" opacity="0.42"/>
<rect x="333.71" y="39.76" width="1.2" height="1.1" fill="#555" opacity="0.44"/>
<rect x="342.6" y="39.76" width="1.2" height="1.1" fill="#555" opacity="0.36"/>
<rect x="350.17" y="39.76" width="3.84" height="1.1" fill="#555" opacity="0.43"/>
<rect x="358.73" y="39.76" width="4.5" height="1.1" fill="#555" opacity="0.61"/>
<rect x="367.35" y="39.76" width="5.05" height="1.1" fill="#555" opacity="0.66"/>
<rect x="376.81" y="39.76" width="3.91" height="1.1" fill="#555" opacity="0.69"/>
<rect x="387.05" y="39.76" width="1.2" height="1.1" fill="#555" opacity="0.58"/>
<rect x="393.84" y="39.76" width="5.4" height="1.1" fill="#555" opacity="0.66"/>
<rect x="402.88" y="39.76" width="5.11" height="1.1" fill="#555" opacity="0.63"/>
<rect x="412.08" y="39.76" width="4.49" height="1.1" fill="#E86A6A" opacity="0.64"/>
<rect x="420.53" y="39.76" width="5.38" height="1.1" fill="#555" opacity="0.55"/>
<rect x="431.5" y="39.76" width="1.2" height="1.1" fill="#555" opacity="0.43"/>
<rect x="297.1" y="41.89" width="4.4" height="1.1" fill="#444" opacity="0.7"/>
<rect x="305.64" y="41.89" width="4.01" height="1.1" fill="#555" opacity="0.39"/>
<rect x="314.24" y="41.89" width="4.59" height="1.1" fill="#555" opacity="0.57"/>
<rect x="324.82" y="41.89" width="1.2" height="1.1" fill="#555" opacity="0.52"/>
<rect x="331.67" y="41.89" width="5.29" height="1.1" fill="#555" opacity="0.61"/>
<rect x="342.6" y="41.89" width="1.2" height="1.1" fill="#555" opacity="0.58"/>
<rect x="351.49" y="41.89" width="1.2" height="1.1" fill="#555" opacity="0.44"/>
<rect x="359.12" y="41.89" width="3.73" height="1.1" fill="#555" opacity="0.61"/>
<rect x="367.31" y="41.89" width="5.12" height="1.1" fill="#555" opacity="0.69"/>
<rect x="376.73" y="41.89" width="4.07" height="1.1" fill="#555" opacity="0.52"/>
<rect x="385.05" y="41.89" width="5.2" height="1.1" fill="#555" opacity="0.57"/>
<rect x="394.96" y="41.89" width="3.17" height="1.1" fill="#555" opacity="0.4"/>
<rect x="402.87" y="41.89" width="5.13" height="1.1" fill="#555" opacity="0.46"/>
<rect x="412.83" y="41.89" width="2.98" height="1.1" fill="#E86A6A" opacity="0.44"/>
<rect x="420.72" y="41.89" width="4.98" height="1.1" fill="#555" opacity="0.59"/>
<rect x="431.5" y="41.89" width="1.2" height="1.1" fill="#E86A6A" opacity="0.51"/>
<rect x="294.82" y="44.02" width="6.68" height="1.1" fill="#444" opacity="0.7"/>
<rect x="305.88" y="44.02" width="3.53" height="1.1" fill="#555" opacity="0.69"/>
<rect x="315.04" y="44.02" width="3" height="1.1" fill="#555" opacity="0.51"/>
<rect x="322.53" y="44.02" width="5.8" height="1.1" fill="#555" opacity="0.51"/>
<rect x="332.53" y="44.02" width="3.56" height="1.1" fill="#555" opacity="0.68"/>
<rect x="340.88" y="44.02" width="4.66" height="1.1" fill="#555" opacity="0.4"/>
<rect x="349.22" y="44.02" width="5.75" height="1.1" fill="#555" opacity="0.4"/>
<rect x="358.76" y="44.02" width="4.44" height="1.1" fill="#555" opacity="0.66"/>
<rect x="368.06" y="44.02" width="3.63" height="1.1" fill="#555" opacity="0.66"/>
<rect x="377.26" y="44.02" width="3.02" height="1.1" fill="#555" opacity="0.35"/>
<rect x="385.52" y="44.02" width="4.27" height="1.1" fill="#555" opacity="0.46"/>
<rect x="394.57" y="44.02" width="3.96" height="1.1" fill="#555" opacity="0.46"/>
<rect x="403.96" y="44.02" width="2.95" height="1.1" fill="#555" opacity="0.61"/>
<rect x="412.68" y="44.02" width="3.3" height="1.1" fill="#555" opacity="0.6"/>
<rect x="421.32" y="44.02" width="3.8" height="1.1" fill="#555" opacity="0.48"/>
<rect x="429.16" y="44.02" width="5.89" height="1.1" fill="#E86A6A" opacity="0.48"/>
<rect x="296.67" y="46.15" width="4.83" height="1.1" fill="#444" opacity="0.7"/>
<rect x="306.1" y="46.15" width="3.09" height="1.1" fill="#555" opacity="0.39"/>
<rect x="314.64" y="46.15" width="3.79" height="1.1" fill="#555" opacity="0.68"/>
<rect x="323.56" y="46.15" width="3.73" height="1.1" fill="#555" opacity="0.53"/>
<rect x="332.29" y="46.15" width="4.04" height="1.1" fill="#555" opacity="0.68"/>
<rect x="340.54" y="46.15" width="5.34" height="1.1" fill="#555" opacity="0.57"/>
<rect x="349.24" y="46.15" width="5.72" height="1.1" fill="#555" opacity="0.54"/>
<rect x="359.44" y="46.15" width="3.09" height="1.1" fill="#555" opacity="0.61"/>
<rect x="367.29" y="46.15" width="5.16" height="1.1" fill="#555" opacity="0.58"/>
<rect x="377.22" y="46.15" width="3.09" height="1.1" fill="#555" opacity="0.67"/>
<rect x="385.49" y="46.15" width="4.34" height="1.1" fill="#555" opacity="0.47"/>
<rect x="393.98" y="46.15" width="5.12" height="1.1" fill="#555" opacity="0.69"/>
<rect x="403" y="46.15" width="4.88" height="1.1" fill="#555" opacity="0.46"/>
<rect x="412.27" y="46.15" width="4.11" height="1.1" fill="#E86A6A" opacity="0.41"/>
<rect x="420.41" y="46.15" width="5.61" height="1.1" fill="#555" opacity="0.52"/>
<rect x="429.3" y="46.15" width="5.61" height="1.1" fill="#555" opacity="0.51"/>
<rect x="296.92" y="48.28" width="4.58" height="1.1" fill="#444" opacity="0.7"/>
<rect x="307.04" y="48.28" width="1.2" height="1.1" fill="#555" opacity="0.47"/>
<rect x="314.71" y="48.28" width="3.65" height="1.1" fill="#555" opacity="0.44"/>
<rect x="322.65" y="48.28" width="5.56" height="1.1" fill="#555" opacity="0.61"/>
<rect x="332.23" y="48.28" width="4.16" height="1.1" fill="#555" opacity="0.53"/>
<rect x="341.23" y="48.28" width="3.94" height="1.1" fill="#555" opacity="0.37"/>
<rect x="349.2" y="48.28" width="5.79" height="1.1" fill="#555" opacity="0.39"/>
<rect x="358.59" y="48.28" width="4.8" height="1.1" fill="#555" opacity="0.65"/>
<rect x="368" y="48.28" width="3.74" height="1.1" fill="#555" opacity="0.44"/>
<rect x="376.64" y="48.28" width="4.26" height="1.1" fill="#555" opacity="0.68"/>
<rect x="387.05" y="48.28" width="1.2" height="1.1" fill="#555" opacity="0.36"/>
<rect x="394.03" y="48.28" width="5.03" height="1.1" fill="#555" opacity="0.66"/>
<rect x="403.1" y="48.28" width="4.67" height="1.1" fill="#555" opacity="0.35"/>
<rect x="411.49" y="48.28" width="5.67" height="1.1" fill="#555" opacity="0.65"/>
<rect x="421.38" y="48.28" width="3.68" height="1.1" fill="#555" opacity="0.39"/>
<rect x="429.86" y="48.28" width="4.48" height="1.1" fill="#555" opacity="0.68"/>
<rect x="272.7" y="67.8" width="163.8" height="0.35" fill="#9bb3cc"/>
<rect x="289" y="65.8" width="147.5" height="2" fill="#DCE9F6"/>
<rect x="276" y="58.95" width="10" height="1.1" fill="#333" opacity="0.65"/>
<rect x="295.56" y="51.8" width="5.94" height="1.1" fill="#444" opacity="0.7"/>
<rect x="305.05" y="51.8" width="5.2" height="1.1" fill="#555" opacity="0.51"/>
<rect x="315" y="51.8" width="3.06" height="1.1" fill="#555" opacity="0.62"/>
<rect x="322.6" y="51.8" width="5.65" height="1.1" fill="#555" opacity="0.58"/>
<rect x="332.65" y="51.8" width="3.32" height="1.1" fill="#555" opacity="0.44"/>
<rect x="342.6" y="51.8" width="1.2" height="1.1" fill="#555" opacity="0.39"/>
<rect x="349.85" y="51.8" width="4.49" height="1.1" fill="#555" opacity="0.55"/>
<rect x="360.38" y="51.8" width="1.2" height="1.1" fill="#555" opacity="0.56"/>
<rect x="367.96" y="51.8" width="3.83" height="1.1" fill="#555" opacity="0.51"/>
<rect x="376.34" y="51.8" width="4.84" height="1.1" fill="#555" opacity="0.66"/>
<rect x="385.84" y="51.8" width="3.64" height="1.1" fill="#555" opacity="0.44"/>
<rect x="395.94" y="51.8" width="1.2" height="1.1" fill="#555" opacity="0.46"/>
<rect x="403.23" y="51.8" width="4.41" height="1.1" fill="#555" opacity="0.59"/>
<rect x="412.47" y="51.8" width="3.7" height="1.1" fill="#555" opacity="0.67"/>
<rect x="421.69" y="51.8" width="3.05" height="1.1" fill="#555" opacity="0.47"/>
<rect x="429.63" y="51.8" width="4.96" height="1.1" fill="#E86A6A" opacity="0.63"/>
<rect x="295.99" y="53.93" width="5.51" height="1.1" fill="#444" opacity="0.7"/>
<rect x="305.87" y="53.93" width="3.55" height="1.1" fill="#555" opacity="0.69"/>
<rect x="313.86" y="53.93" width="5.36" height="1.1" fill="#555" opacity="0.43"/>
<rect x="322.83" y="53.93" width="5.18" height="1.1" fill="#555" opacity="0.45"/>
<rect x="332.11" y="53.93" width="4.41" height="1.1" fill="#555" opacity="0.42"/>
<rect x="341.12" y="53.93" width="4.17" height="1.1" fill="#555" opacity="0.58"/>
<rect x="350.41" y="53.93" width="3.38" height="1.1" fill="#555" opacity="0.49"/>
<rect x="360.38" y="53.93" width="1.2" height="1.1" fill="#555" opacity="0.4"/>
<rect x="368.31" y="53.93" width="3.12" height="1.1" fill="#555" opacity="0.49"/>
<rect x="375.99" y="53.93" width="5.55" height="1.1" fill="#555" opacity="0.61"/>
<rect x="384.81" y="53.93" width="5.69" height="1.1" fill="#555" opacity="0.47"/>
<rect x="395.94" y="53.93" width="1.2" height="1.1" fill="#555" opacity="0.61"/>
<rect x="402.98" y="53.93" width="4.9" height="1.1" fill="#555" opacity="0.48"/>
<rect x="412.36" y="53.93" width="3.92" height="1.1" fill="#E86A6A" opacity="0.35"/>
<rect x="421.22" y="53.93" width="3.98" height="1.1" fill="#555" opacity="0.68"/>
<rect x="429.21" y="53.93" width="5.78" height="1.1" fill="#E86A6A" opacity="0.47"/>
<rect x="295.03" y="56.06" width="6.47" height="1.1" fill="#444" opacity="0.7"/>
<rect x="305.54" y="56.06" width="4.22" height="1.1" fill="#555" opacity="0.37"/>
<rect x="314.51" y="56.06" width="4.04" height="1.1" fill="#555" opacity="0.67"/>
<rect x="324.82" y="56.06" width="1.2" height="1.1" fill="#555" opacity="0.66"/>
<rect x="332.24" y="56.06" width="4.15" height="1.1" fill="#555" opacity="0.63"/>
<rect x="342.6" y="56.06" width="1.2" height="1.1" fill="#555" opacity="0.36"/>
<rect x="349.27" y="56.06" width="5.65" height="1.1" fill="#555" opacity="0.44"/>
<rect x="358.19" y="56.06" width="5.59" height="1.1" fill="#555" opacity="0.47"/>
<rect x="366.99" y="56.06" width="5.77" height="1.1" fill="#555" opacity="0.57"/>
<rect x="376.24" y="56.06" width="5.06" height="1.1" fill="#555" opacity="0.46"/>
<rect x="386.18" y="56.06" width="2.96" height="1.1" fill="#555" opacity="0.61"/>
<rect x="395.94" y="56.06" width="1.2" height="1.1" fill="#555" opacity="0.68"/>
<rect x="403.62" y="56.06" width="3.63" height="1.1" fill="#555" opacity="0.52"/>
<rect x="411.45" y="56.06" width="5.75" height="1.1" fill="#E86A6A" opacity="0.44"/>
<rect x="421.02" y="56.06" width="4.4" height="1.1" fill="#555" opacity="0.67"/>
<rect x="429.45" y="56.06" width="5.31" height="1.1" fill="#555" opacity="0.64"/>
<rect x="295.68" y="58.19" width="5.82" height="1.1" fill="#444" opacity="0.7"/>
<rect x="305.69" y="58.19" width="3.91" height="1.1" fill="#555" opacity="0.46"/>
<rect x="313.91" y="58.19" width="5.25" height="1.1" fill="#555" opacity="0.38"/>
<rect x="324.82" y="58.19" width="1.2" height="1.1" fill="#555" opacity="0.44"/>
<rect x="332.79" y="58.19" width="3.04" height="1.1" fill="#555" opacity="0.54"/>
<rect x="340.29" y="58.19" width="5.83" height="1.1" fill="#555" opacity="0.66"/>
<rect x="351.49" y="58.19" width="1.2" height="1.1" fill="#555" opacity="0.38"/>
<rect x="358.78" y="58.19" width="4.41" height="1.1" fill="#555" opacity="0.6"/>
<rect x="368.06" y="58.19" width="3.63" height="1.1" fill="#555" opacity="0.5"/>
<rect x="376.3" y="58.19" width="4.93" height="1.1" fill="#555" opacity="0.61"/>
<rect x="385.2" y="58.19" width="4.9" height="1.1" fill="#555" opacity="0.39"/>
<rect x="394.64" y="58.19" width="3.81" height="1.1" fill="#555" opacity="0.55"/>
<rect x="402.88" y="58.19" width="5.12" height="1.1" fill="#555" opacity="0.42"/>
<rect x="412.49" y="58.19" width="3.67" height="1.1" fill="#E86A6A" opacity="0.66"/>
<rect x="421.26" y="58.19" width="3.91" height="1.1" fill="#555" opacity="0.49"/>
<rect x="429.89" y="58.19" width="4.44" height="1.1" fill="#E86A6A" opacity="0.63"/>
<rect x="294.53" y="60.32" width="6.97" height="1.1" fill="#444" opacity="0.7"/>
<rect x="306.02" y="60.32" width="3.25" height="1.1" fill="#555" opacity="0.52"/>
<rect x="315.93" y="60.32" width="1.2" height="1.1" fill="#555" opacity="0.67"/>
<rect x="323.52" y="60.32" width="3.81" height="1.1" fill="#555" opacity="0.39"/>
<rect x="331.41" y="60.32" width="5.81" height="1.1" fill="#555" opacity="0.55"/>
<rect x="341.18" y="60.32" width="4.04" height="1.1" fill="#555" opacity="0.65"/>
<rect x="350.24" y="60.32" width="3.71" height="1.1" fill="#555" opacity="0.62"/>
<rect x="359.36" y="60.32" width="3.26" height="1.1" fill="#555" opacity="0.56"/>
<rect x="368.08" y="60.32" width="3.59" height="1.1" fill="#555" opacity="0.48"/>
<rect x="376.99" y="60.32" width="3.55" height="1.1" fill="#555" opacity="0.44"/>
<rect x="387.05" y="60.32" width="1.2" height="1.1" fill="#555" opacity="0.42"/>
<rect x="394.59" y="60.32" width="3.91" height="1.1" fill="#555" opacity="0.59"/>
<rect x="403.5" y="60.32" width="3.86" height="1.1" fill="#555" opacity="0.42"/>
<rect x="412.05" y="60.32" width="4.56" height="1.1" fill="#E86A6A" opacity="0.39"/>
<rect x="422.61" y="60.32" width="1.2" height="1.1" fill="#555" opacity="0.57"/>
<rect x="430.39" y="60.32" width="3.43" height="1.1" fill="#555" opacity="0.49"/>
<rect x="296.58" y="62.45" width="4.92" height="1.1" fill="#444" opacity="0.7"/>
<rect x="304.77" y="62.45" width="5.75" height="1.1" fill="#555" opacity="0.46"/>
<rect x="314.54" y="62.45" width="4" height="1.1" fill="#555" opacity="0.5"/>
<rect x="322.48" y="62.45" width="5.88" height="1.1" fill="#555" opacity="0.48"/>
<rect x="333.71" y="62.45" width="1.2" height="1.1" fill="#555" opacity="0.42"/>
<rect x="340.4" y="62.45" width="5.6" height="1.1" fill="#555" opacity="0.5"/>
<rect x="350.02" y="62.45" width="4.14" height="1.1" fill="#555" opacity="0.66"/>
<rect x="359.27" y="62.45" width="3.42" height="1.1" fill="#555" opacity="0.36"/>
<rect x="369.27" y="62.45" width="1.2" height="1.1" fill="#555" opacity="0.67"/>
<rect x="376.38" y="62.45" width="4.78" height="1.1" fill="#555" opacity="0.48"/>
<rect x="385.97" y="62.45" width="3.37" height="1.1" fill="#555" opacity="0.45"/>
<rect x="393.71" y="62.45" width="5.67" height="1.1" fill="#555" opacity="0.39"/>
<rect x="402.78" y="62.45" width="5.32" height="1.1" fill="#555" opacity="0.69"/>
<rect x="412.67" y="62.45" width="3.32" height="1.1" fill="#555" opacity="0.69"/>
<rect x="421.66" y="62.45" width="3.1" height="1.1" fill="#555" opacity="0.67"/>
<rect x="429.3" y="62.45" width="5.61" height="1.1" fill="#555" opacity="0.64"/>
<rect x="295.14" y="64.58" width="6.36" height="1.1" fill="#444" opacity="0.7"/>
<rect x="305.85" y="64.58" width="3.6" height="1.1" fill="#555" opacity="0.49"/>
<rect x="313.84" y="64.58" width="5.39" height="1.1" fill="#555" opacity="0.41"/>
<rect x="323.36" y="64.58" width="4.12" height="1.1" fill="#555" opacity="0.53"/>
<rect x="332.66" y="64.58" width="3.31" height="1.1" fill="#555" opacity="0.44"/>
<rect x="340.41" y="64.58" width="5.59" height="1.1" fill="#555" opacity="0.36"/>
<rect x="349.51" y="64.58" width="5.18" height="1.1" fill="#555" opacity="0.36"/>
<rect x="359.34" y="64.58" width="3.29" height="1.1" fill="#555" opacity="0.56"/>
<rect x="367.48" y="64.58" width="4.79" height="1.1" fill="#555" opacity="0.46"/>
<rect x="376.43" y="64.58" width="4.66" height="1.1" fill="#555" opacity="0.5"/>
<rect x="387.05" y="64.58" width="1.2" height="1.1" fill="#555" opacity="0.5"/>
<rect x="394.16" y="64.58" width="4.77" height="1.1" fill="#555" opacity="0.52"/>
<rect x="402.84" y="64.58" width="5.19" height="1.1" fill="#555" opacity="0.62"/>
<rect x="412.59" y="64.58" width="3.47" height="1.1" fill="#E86A6A" opacity="0.39"/>
<rect x="421.11" y="64.58" width="4.21" height="1.1" fill="#555" opacity="0.38"/>
<rect x="431.5" y="64.58" width="1.2" height="1.1" fill="#E86A6A" opacity="0.57"/>
<rect x="295.3" y="66.71" width="6.2" height="1.1" fill="#444" opacity="0.7"/>
<rect x="307.04" y="66.71" width="1.2" height="1.1" fill="#555" opacity="0.53"/>
<rect x="314.32" y="66.71" width="4.43" height="1.1" fill="#555" opacity="0.48"/>
<rect x="323.75" y="66.71" width="3.35" height="1.1" fill="#555" opacity="0.65"/>
<rect x="331.76" y="66.71" width="5.1" height="1.1" fill="#555" opacity="0.64"/>
<rect x="340.29" y="66.71" width="5.84" height="1.1" fill="#555" opacity="0.52"/>
<rect x="349.27" y="66.71" width="5.64" height="1.1" fill="#555" opacity="0.41"/>
<rect x="358.14" y="66.71" width="5.69" height="1.1" fill="#555" opacity="0.37"/>
<rect x="367.29" y="66.71" width="5.17" height="1.1" fill="#555" opacity="0.41"/>
<rect x="376.89" y="66.71" width="3.75" height="1.1" fill="#555" opacity="0.64"/>
<rect x="385.44" y="66.71" width="4.42" height="1.1" fill="#555" opacity="0.67"/>
<rect x="394.69" y="66.71" width="3.72" height="1.1" fill="#555" opacity="0.53"/>
<rect x="403.91" y="66.71" width="3.05" height="1.1" fill="#555" opacity="0.41"/>
<rect x="411.47" y="66.71" width="5.7" height="1.1" fill="#555" opacity="0.66"/>
<rect x="420.59" y="66.71" width="5.26" height="1.1" fill="#555" opacity="0.39"/>
<rect x="429.7" y="66.71" width="4.82" height="1.1" fill="#E86A6A" opacity="0.66"/>
<rect x="272.7" y="85.6" width="163.8" height="0.35" fill="#9bb3cc"/>
<rect x="289" y="83.6" width="147.5" height="2" fill="#DCE9F6"/>
<rect x="276" y="76.3" width="10" height="1.1" fill="#333" opacity="0.65"/>
<rect x="295.76" y="68.7" width="5.74" height="1.1" fill="#444" opacity="0.7"/>
<rect x="304.87" y="68.7" width="5.54" height="1.1" fill="#555" opacity="0.39"/>
<rect x="314.14" y="68.7" width="4.8" height="1.1" fill="#555" opacity="0.49"/>
<rect x="323.56" y="68.7" width="3.72" height="1.1" fill="#555" opacity="0.7"/>
<rect x="332.31" y="68.7" width="4.01" height="1.1" fill="#555" opacity="0.62"/>
<rect x="342.6" y="68.7" width="1.2" height="1.1" fill="#555" opacity="0.61"/>
<rect x="349.42" y="68.7" width="5.36" height="1.1" fill="#555" opacity="0.44"/>
<rect x="358.06" y="68.7" width="5.84" height="1.1" fill="#555" opacity="0.56"/>
<rect x="369.27" y="68.7" width="1.2" height="1.1" fill="#555" opacity="0.35"/>
<rect x="377.07" y="68.7" width="3.38" height="1.1" fill="#555" opacity="0.57"/>
<rect x="385.43" y="68.7" width="4.45" height="1.1" fill="#555" opacity="0.66"/>
<rect x="395.94" y="68.7" width="1.2" height="1.1" fill="#555" opacity="0.58"/>
<rect x="404.83" y="68.7" width="1.2" height="1.1" fill="#555" opacity="0.47"/>
<rect x="412.33" y="68.7" width="4" height="1.1" fill="#E86A6A" opacity="0.55"/>
<rect x="421.44" y="68.7" width="3.55" height="1.1" fill="#555" opacity="0.57"/>
<rect x="430.43" y="68.7" width="3.34" height="1.1" fill="#555" opacity="0.44"/>
<rect x="297.21" y="70.83" width="4.29" height="1.1" fill="#444" opacity="0.7"/>
<rect x="305.23" y="70.83" width="4.82" height="1.1" fill="#555" opacity="0.65"/>
<rect x="315.93" y="70.83" width="1.2" height="1.1" fill="#555" opacity="0.44"/>
<rect x="323" y="70.83" width="4.84" height="1.1" fill="#555" opacity="0.55"/>
<rect x="331.89" y="70.83" width="4.85" height="1.1" fill="#555" opacity="0.51"/>
<rect x="340.65" y="70.83" width="5.11" height="1.1" fill="#555" opacity="0.44"/>
<rect x="350.56" y="70.83" width="3.07" height="1.1" fill="#555" opacity="0.54"/>
<rect x="359.16" y="70.83" width="3.64" height="1.1" fill="#555" opacity="0.37"/>
<rect x="368.38" y="70.83" width="2.98" height="1.1" fill="#555" opacity="0.54"/>
<rect x="377.08" y="70.83" width="3.36" height="1.1" fill="#555" opacity="0.42"/>
<rect x="385.44" y="70.83" width="4.44" height="1.1" fill="#555" opacity="0.57"/>
<rect x="394.82" y="70.83" width="3.46" height="1.1" fill="#555" opacity="0.46"/>
<rect x="403.89" y="70.83" width="3.09" height="1.1" fill="#555" opacity="0.66"/>
<rect x="411.8" y="70.83" width="5.05" height="1.1" fill="#E86A6A" opacity="0.65"/>
<rect x="421.06" y="70.83" width="4.32" height="1.1" fill="#555" opacity="0.61"/>
<rect x="431.5" y="70.83" width="1.2" height="1.1" fill="#E86A6A" opacity="0.43"/>
<rect x="296.49" y="72.96" width="5.01" height="1.1" fill="#444" opacity="0.7"/>
<rect x="305.07" y="72.96" width="5.15" height="1.1" fill="#555" opacity="0.59"/>
<rect x="314.01" y="72.96" width="5.04" height="1.1" fill="#555" opacity="0.44"/>
<rect x="323.31" y="72.96" width="4.23" height="1.1" fill="#555" opacity="0.63"/>
<rect x="332.45" y="72.96" width="3.73" height="1.1" fill="#555" opacity="0.57"/>
<rect x="342.6" y="72.96" width="1.2" height="1.1" fill="#555" opacity="0.66"/>
<rect x="350.24" y="72.96" width="3.71" height="1.1" fill="#555" opacity="0.43"/>
<rect x="358.12" y="72.96" width="5.73" height="1.1" fill="#555" opacity="0.61"/>
<rect x="367.11" y="72.96" width="5.54" height="1.1" fill="#555" opacity="0.46"/>
<rect x="375.96" y="72.96" width="5.62" height="1.1" fill="#555" opacity="0.57"/>
<rect x="385.2" y="72.96" width="4.9" height="1.1" fill="#555" opacity="0.69"/>
<rect x="393.84" y="72.96" width="5.42" height="1.1" fill="#555" opacity="0.59"/>
<rect x="403.32" y="72.96" width="4.23" height="1.1" fill="#555" opacity="0.6"/>
<rect x="413.72" y="72.96" width="1.2" height="1.1" fill="#E86A6A" opacity="0.57"/>
<rect x="422.61" y="72.96" width="1.2" height="1.1" fill="#555" opacity="0.4"/>
<rect x="430.48" y="72.96" width="3.26" height="1.1" fill="#555" opacity="0.47"/>
<rect x="297.41" y="75.09" width="4.09" height="1.1" fill="#444" opacity="0.7"/>
<rect x="306.11" y="75.09" width="3.07" height="1.1" fill="#555" opacity="0.59"/>
<rect x="315.93" y="75.09" width="1.2" height="1.1" fill="#555" opacity="0.61"/>
<rect x="323.08" y="75.09" width="4.68" height="1.1" fill="#555" opacity="0.48"/>
<rect x="333.71" y="75.09" width="1.2" height="1.1" fill="#555" opacity="0.66"/>
<rect x="340.45" y="75.09" width="5.5" height="1.1" fill="#555" opacity="0.67"/>
<rect x="351.49" y="75.09" width="1.2" height="1.1" fill="#555" opacity="0.42"/>
<rect x="359.46" y="75.09" width="3.05" height="1.1" fill="#555" opacity="0.65"/>
<rect x="367.47" y="75.09" width="4.81" height="1.1" fill="#555" opacity="0.64"/>
<rect x="378.16" y="75.09" width="1.2" height="1.1" fill="#555" opacity="0.38"/>
<rect x="385.07" y="75.09" width="5.18" height="1.1" fill="#555" opacity="0.42"/>
<rect x="394.45" y="75.09" width="4.19" height="1.1" fill="#555" opacity="0.36"/>
<rect x="403.55" y="75.09" width="3.78" height="1.1" fill="#555" opacity="0.6"/>
<rect x="412.38" y="75.09" width="3.89" height="1.1" fill="#555" opacity="0.53"/>
<rect x="420.83" y="75.09" width="4.77" height="1.1" fill="#555" opacity="0.36"/>
<rect x="429.99" y="75.09" width="4.23" height="1.1" fill="#555" opacity="0.47"/>
<rect x="295.89" y="77.22" width="5.61" height="1.1" fill="#444" opacity="0.7"/>
<rect x="307.04" y="77.22" width="1.2" height="1.1" fill="#555" opacity="0.65"/>
<rect x="315.93" y="77.22" width="1.2" height="1.1" fill="#555" opacity="0.41"/>
<rect x="323.66" y="77.22" width="3.54" height="1.1" fill="#555" opacity="0.62"/>
<rect x="332.84" y="77.22" width="2.96" height="1.1" fill="#555" opacity="0.52"/>
<rect x="340.56" y="77.22" width="5.29" height="1.1" fill="#555" opacity="0.41"/>
<rect x="350.11" y="77.22" width="3.97" height="1.1" fill="#555" opacity="0.64"/>
<rect x="358.12" y="77.22" width="5.72" height="1.1" fill="#555" opacity="0.45"/>
<rect x="369.27" y="77.22" width="1.2" height="1.1" fill="#555" opacity="0.52"/>
<rect x="376.36" y="77.22" width="4.82" height="1.1" fill="#555" opacity="0.38"/>
<rect x="385.16" y="77.22" width="5" height="1.1" fill="#555" opacity="0.63"/>
<rect x="394.55" y="77.22" width="3.99" height="1.1" fill="#555" opacity="0.49"/>
<rect x="402.65" y="77.22" width="5.57" height="1.1" fill="#555" opacity="0.38"/>
<rect x="412.82" y="77.22" width="3.02" height="1.1" fill="#E86A6A" opacity="0.44"/>
<rect x="421" y="77.22" width="4.42" height="1.1" fill="#555" opacity="0.48"/>
<rect x="430.29" y="77.22" width="3.63" height="1.1" fill="#E86A6A" opacity="0.54"/>
<rect x="295.24" y="79.35" width="6.26" height="1.1" fill="#444" opacity="0.7"/>
<rect x="305.22" y="79.35" width="4.85" height="1.1" fill="#555" opacity="0.47"/>
<rect x="314.83" y="79.35" width="3.4" height="1.1" fill="#555" opacity="0.65"/>
<rect x="322.86" y="79.35" width="5.13" height="1.1" fill="#555" opacity="0.41"/>
<rect x="331.7" y="79.35" width="5.22" height="1.1" fill="#555" opacity="0.55"/>
<rect x="341.05" y="79.35" width="4.31" height="1.1" fill="#555" opacity="0.66"/>
<rect x="350.34" y="79.35" width="3.51" height="1.1" fill="#555" opacity="0.46"/>
<rect x="358.27" y="79.35" width="5.43" height="1.1" fill="#555" opacity="0.4"/>
<rect x="368.04" y="79.35" width="3.67" height="1.1" fill="#555" opacity="0.46"/>
<rect x="377.06" y="79.35" width="3.42" height="1.1" fill="#555" opacity="0.46"/>
<rect x="387.05" y="79.35" width="1.2" height="1.1" fill="#555" opacity="0.61"/>
<rect x="393.66" y="79.35" width="5.78" height="1.1" fill="#555" opacity="0.39"/>
<rect x="402.51" y="79.35" width="5.84" height="1.1" fill="#555" opacity="0.63"/>
<rect x="413.72" y="79.35" width="1.2" height="1.1" fill="#E86A6A" opacity="0.57"/>
<rect x="422.61" y="79.35" width="1.2" height="1.1" fill="#555" opacity="0.49"/>
<rect x="430.04" y="79.35" width="4.12" height="1.1" fill="#555" opacity="0.59"/>
<rect x="295.6" y="81.48" width="5.9" height="1.1" fill="#444" opacity="0.7"/>
<rect x="305.49" y="81.48" width="4.31" height="1.1" fill="#555" opacity="0.4"/>
<rect x="314.47" y="81.48" width="4.14" height="1.1" fill="#555" opacity="0.61"/>
<rect x="323.32" y="81.48" width="4.21" height="1.1" fill="#555" opacity="0.55"/>
<rect x="332.22" y="81.48" width="4.19" height="1.1" fill="#555" opacity="0.43"/>
<rect x="340.44" y="81.48" width="5.54" height="1.1" fill="#555" opacity="0.62"/>
<rect x="349.37" y="81.48" width="5.46" height="1.1" fill="#555" opacity="0.59"/>
<rect x="358.84" y="81.48" width="4.28" height="1.1" fill="#555" opacity="0.46"/>
<rect x="368.26" y="81.48" width="3.23" height="1.1" fill="#555" opacity="0.5"/>
<rect x="376.24" y="81.48" width="5.05" height="1.1" fill="#555" opacity="0.57"/>
<rect x="385.56" y="81.48" width="4.19" height="1.1" fill="#555" opacity="0.51"/>
<rect x="394.47" y="81.48" width="4.15" height="1.1" fill="#555" opacity="0.59"/>
<rect x="403.69" y="81.48" width="3.48" height="1.1" fill="#555" opacity="0.58"/>
<rect x="413.72" y="81.48" width="1.2" height="1.1" fill="#E86A6A" opacity="0.69"/>
<rect x="420.94" y="81.48" width="4.55" height="1.1" fill="#555" opacity="0.41"/>
<rect x="429.25" y="81.48" width="5.72" height="1.1" fill="#E86A6A" opacity="0.39"/>
<rect x="295.88" y="83.61" width="5.62" height="1.1" fill="#444" opacity="0.7"/>
<rect x="305.12" y="83.61" width="5.06" height="1.1" fill="#555" opacity="0.53"/>
<rect x="313.84" y="83.61" width="5.39" height="1.1" fill="#555" opacity="0.53"/>
<rect x="322.56" y="83.61" width="5.74" height="1.1" fill="#555" opacity="0.42"/>
<rect x="332.26" y="83.61" width="4.1" height="1.1" fill="#555" opacity="0.62"/>
<rect x="342.6" y="83.61" width="1.2" height="1.1" fill="#555" opacity="0.47"/>
<rect x="351.49" y="83.61" width="1.2" height="1.1" fill="#555" opacity="0.49"/>
<rect x="358.9" y="83.61" width="4.18" height="1.1" fill="#555" opacity="0.5"/>
<rect x="367.88" y="83.61" width="3.98" height="1.1" fill="#555" opacity="0.44"/>
<rect x="376.2" y="83.61" width="5.13" height="1.1" fill="#555" opacity="0.68"/>
<rect x="385.86" y="83.61" width="3.59" height="1.1" fill="#555" opacity="0.63"/>
<rect x="394.76" y="83.61" width="3.57" height="1.1" fill="#555" opacity="0.4"/>
<rect x="402.77" y="83.61" width="5.33" height="1.1" fill="#555" opacity="0.57"/>
<rect x="412.02" y="83.61" width="4.6" height="1.1" fill="#E86A6A" opacity="0.69"/>
<rect x="420.8" y="83.61" width="4.83" height="1.1" fill="#555" opacity="0.64"/>
<rect x="429.94" y="83.61" width="4.32" height="1.1" fill="#E86A6A" opacity="0.54"/>
<rect x="272.7" y="103.5" width="163.8" height="0.35" fill="#9bb3cc"/>
<rect x="289" y="101.5" width="147.5" height="2" fill="#DCE9F6"/>
<rect x="276" y="94.15" width="10" height="1.1" fill="#333" opacity="0.65"/>
<rect x="295" y="86.5" width="6.5" height="1.1" fill="#444" opacity="0.7"/>
<rect x="305.65" y="86.5" width="3.99" height="1.1" fill="#555" opacity="0.65"/>
<rect x="314.51" y="86.5" width="4.05" height="1.1" fill="#555" opacity="0.44"/>
<rect x="323.68" y="86.5" width="3.49" height="1.1" fill="#555" opacity="0.35"/>
<rect x="332.43" y="86.5" width="3.77" height="1.1" fill="#555" opacity="0.44"/>
<rect x="341.03" y="86.5" width="4.36" height="1.1" fill="#555" opacity="0.5"/>
<rect x="349.65" y="86.5" width="4.89" height="1.1" fill="#555" opacity="0.48"/>
<rect x="358.25" y="86.5" width="5.46" height="1.1" fill="#555" opacity="0.37"/>
<rect x="367.07" y="86.5" width="5.61" height="1.1" fill="#555" opacity="0.62"/>
<rect x="378.16" y="86.5" width="1.2" height="1.1" fill="#555" opacity="0.57"/>
<rect x="386.17" y="86.5" width="2.98" height="1.1" fill="#555" opacity="0.68"/>
<rect x="394.7" y="86.5" width="3.68" height="1.1" fill="#555" opacity="0.39"/>
<rect x="403.62" y="86.5" width="3.63" height="1.1" fill="#555" opacity="0.62"/>
<rect x="412.63" y="86.5" width="3.39" height="1.1" fill="#555" opacity="0.63"/>
<rect x="420.43" y="86.5" width="5.57" height="1.1" fill="#555" opacity="0.56"/>
<rect x="429.65" y="86.5" width="4.91" height="1.1" fill="#555" opacity="0.63"/>
<rect x="296.91" y="88.63" width="4.59" height="1.1" fill="#444" opacity="0.7"/>
<rect x="305.15" y="88.63" width="4.99" height="1.1" fill="#555" opacity="0.54"/>
<rect x="314.42" y="88.63" width="4.24" height="1.1" fill="#555" opacity="0.66"/>
<rect x="323.56" y="88.63" width="3.72" height="1.1" fill="#555" opacity="0.43"/>
<rect x="332.12" y="88.63" width="4.4" height="1.1" fill="#555" opacity="0.37"/>
<rect x="341.52" y="88.63" width="3.37" height="1.1" fill="#555" opacity="0.52"/>
<rect x="351.49" y="88.63" width="1.2" height="1.1" fill="#555" opacity="0.65"/>
<rect x="358.27" y="88.63" width="5.42" height="1.1" fill="#555" opacity="0.51"/>
<rect x="367.42" y="88.63" width="4.9" height="1.1" fill="#555" opacity="0.64"/>
<rect x="378.16" y="88.63" width="1.2" height="1.1" fill="#555" opacity="0.69"/>
<rect x="387.05" y="88.63" width="1.2" height="1.1" fill="#555" opacity="0.57"/>
<rect x="394.17" y="88.63" width="4.74" height="1.1" fill="#555" opacity="0.59"/>
<rect x="403.48" y="88.63" width="3.92" height="1.1" fill="#555" opacity="0.69"/>
<rect x="412.14" y="88.63" width="4.37" height="1.1" fill="#555" opacity="0.36"/>
<rect x="420.82" y="88.63" width="4.79" height="1.1" fill="#555" opacity="0.47"/>
<rect x="430.09" y="88.63" width="4.02" height="1.1" fill="#E86A6A" opacity="0.53"/>
<rect x="296.87" y="90.76" width="4.63" height="1.1" fill="#444" opacity="0.7"/>
<rect x="305.53" y="90.76" width="4.23" height="1.1" fill="#555" opacity="0.5"/>
<rect x="313.85" y="90.76" width="5.38" height="1.1" fill="#555" opacity="0.45"/>
<rect x="323.36" y="90.76" width="4.13" height="1.1" fill="#555" opacity="0.53"/>
<rect x="332.1" y="90.76" width="4.44" height="1.1" fill="#555" opacity="0.69"/>
<rect x="340.57" y="90.76" width="5.28" height="1.1" fill="#555" opacity="0.47"/>
<rect x="350.18" y="90.76" width="3.83" height="1.1" fill="#555" opacity="0.56"/>
<rect x="358.36" y="90.76" width="5.25" height="1.1" fill="#555" opacity="0.36"/>
<rect x="369.27" y="90.76" width="1.2" height="1.1" fill="#555" opacity="0.54"/>
<rect x="376.85" y="90.76" width="3.83" height="1.1" fill="#555" opacity="0.35"/>
<rect x="384.83" y="90.76" width="5.66" height="1.1" fill="#555" opacity="0.56"/>
<rect x="393.91" y="90.76" width="5.27" height="1.1" fill="#555" opacity="0.67"/>
<rect x="403.05" y="90.76" width="4.76" height="1.1" fill="#555" opacity="0.57"/>
<rect x="411.97" y="90.76" width="4.7" height="1.1" fill="#555" opacity="0.42"/>
<rect x="422.61" y="90.76" width="1.2" height="1.1" fill="#555" opacity="0.62"/>
<rect x="430.37" y="90.76" width="3.48" height="1.1" fill="#E86A6A" opacity="0.62"/>
<rect x="295.53" y="92.89" width="5.97" height="1.1" fill="#444" opacity="0.7"/>
<rect x="305.63" y="92.89" width="4.03" height="1.1" fill="#555" opacity="0.64"/>
<rect x="314.23" y="92.89" width="4.6" height="1.1" fill="#555" opacity="0.44"/>
<rect x="323.33" y="92.89" width="4.19" height="1.1" fill="#555" opacity="0.46"/>
<rect x="333.71" y="92.89" width="1.2" height="1.1" fill="#555" opacity="0.68"/>
<rect x="342.6" y="92.89" width="1.2" height="1.1" fill="#555" opacity="0.36"/>
<rect x="349.43" y="92.89" width="5.33" height="1.1" fill="#555" opacity="0.55"/>
<rect x="358.86" y="92.89" width="4.26" height="1.1" fill="#555" opacity="0.35"/>
<rect x="367.53" y="92.89" width="4.69" height="1.1" fill="#555" opacity="0.68"/>
<rect x="378.16" y="92.89" width="1.2" height="1.1" fill="#555" opacity="0.49"/>
<rect x="385.23" y="92.89" width="4.84" height="1.1" fill="#555" opacity="0.42"/>
<rect x="395.05" y="92.89" width="2.99" height="1.1" fill="#555" opacity="0.35"/>
<rect x="404.83" y="92.89" width="1.2" height="1.1" fill="#555" opacity="0.69"/>
<rect x="411.57" y="92.89" width="5.51" height="1.1" fill="#E86A6A" opacity="0.36"/>
<rect x="421.39" y="92.89" width="3.66" height="1.1" fill="#555" opacity="0.61"/>
<rect x="430.56" y="92.89" width="3.09" height="1.1" fill="#555" opacity="0.6"/>
<rect x="295.31" y="95.02" width="6.19" height="1.1" fill="#444" opacity="0.7"/>
<rect x="306.05" y="95.02" width="3.19" height="1.1" fill="#555" opacity="0.57"/>
<rect x="314.38" y="95.02" width="4.3" height="1.1" fill="#555" opacity="0.68"/>
<rect x="324.82" y="95.02" width="1.2" height="1.1" fill="#555" opacity="0.6"/>
<rect x="332.82" y="95.02" width="2.99" height="1.1" fill="#555" opacity="0.58"/>
<rect x="341.62" y="95.02" width="3.18" height="1.1" fill="#555" opacity="0.46"/>
<rect x="350.38" y="95.02" width="3.43" height="1.1" fill="#555" opacity="0.65"/>
<rect x="359.42" y="95.02" width="3.12" height="1.1" fill="#555" opacity="0.48"/>
<rect x="367.76" y="95.02" width="4.24" height="1.1" fill="#555" opacity="0.59"/>
<rect x="376.12" y="95.02" width="5.29" height="1.1" fill="#555" opacity="0.48"/>
<rect x="385.26" y="95.02" width="4.8" height="1.1" fill="#555" opacity="0.5"/>
<rect x="393.91" y="95.02" width="5.26" height="1.1" fill="#555" opacity="0.68"/>
<rect x="404.83" y="95.02" width="1.2" height="1.1" fill="#555" opacity="0.45"/>
<rect x="411.42" y="95.02" width="5.81" height="1.1" fill="#555" opacity="0.64"/>
<rect x="420.85" y="95.02" width="4.73" height="1.1" fill="#555" opacity="0.69"/>
<rect x="429.75" y="95.02" width="4.72" height="1.1" fill="#E86A6A" opacity="0.5"/>
<rect x="296.37" y="97.15" width="5.13" height="1.1" fill="#444" opacity="0.7"/>
<rect x="305.16" y="97.15" width="4.96" height="1.1" fill="#555" opacity="0.56"/>
<rect x="315.93" y="97.15" width="1.2" height="1.1" fill="#555" opacity="0.45"/>
<rect x="323.57" y="97.15" width="3.72" height="1.1" fill="#555" opacity="0.5"/>
<rect x="333.71" y="97.15" width="1.2" height="1.1" fill="#555" opacity="0.66"/>
<rect x="340.51" y="97.15" width="5.4" height="1.1" fill="#555" opacity="0.63"/>
<rect x="349.78" y="97.15" width="4.63" height="1.1" fill="#555" opacity="0.45"/>
<rect x="358.32" y="97.15" width="5.32" height="1.1" fill="#555" opacity="0.59"/>
<rect x="367.89" y="97.15" width="3.97" height="1.1" fill="#555" opacity="0.38"/>
<rect x="376.12" y="97.15" width="5.29" height="1.1" fill="#555" opacity="0.42"/>
<rect x="384.81" y="97.15" width="5.69" height="1.1" fill="#555" opacity="0.43"/>
<rect x="394.07" y="97.15" width="4.94" height="1.1" fill="#555" opacity="0.51"/>
<rect x="403.59" y="97.15" width="3.7" height="1.1" fill="#555" opacity="0.61"/>
<rect x="412.18" y="97.15" width="4.3" height="1.1" fill="#E86A6A" opacity="0.63"/>
<rect x="421.4" y="97.15" width="3.63" height="1.1" fill="#555" opacity="0.55"/>
<rect x="429.33" y="97.15" width="5.55" height="1.1" fill="#E86A6A" opacity="0.52"/>
<rect x="296.93" y="99.28" width="4.57" height="1.1" fill="#444" opacity="0.7"/>
<rect x="305.89" y="99.28" width="3.51" height="1.1" fill="#555" opacity="0.41"/>
<rect x="314.53" y="99.28" width="4.01" height="1.1" fill="#555" opacity="0.55"/>
<rect x="324.82" y="99.28" width="1.2" height="1.1" fill="#555" opacity="0.4"/>
<rect x="333.71" y="99.28" width="1.2" height="1.1" fill="#555" opacity="0.48"/>
<rect x="340.8" y="99.28" width="4.81" height="1.1" fill="#555" opacity="0.63"/>
<rect x="349.74" y="99.28" width="4.7" height="1.1" fill="#555" opacity="0.47"/>
<rect x="359.48" y="99.28" width="3.01" height="1.1" fill="#555" opacity="0.36"/>
<rect x="367.13" y="99.28" width="5.5" height="1.1" fill="#555" opacity="0.52"/>
<rect x="376.91" y="99.28" width="3.72" height="1.1" fill="#555" opacity="0.62"/>
<rect x="384.79" y="99.28" width="5.73" height="1.1" fill="#555" opacity="0.62"/>
<rect x="395.94" y="99.28" width="1.2" height="1.1" fill="#555" opacity="0.44"/>
<rect x="404.83" y="99.28" width="1.2" height="1.1" fill="#555" opacity="0.41"/>
<rect x="412.78" y="99.28" width="3.1" height="1.1" fill="#E86A6A" opacity="0.65"/>
<rect x="422.61" y="99.28" width="1.2" height="1.1" fill="#555" opacity="0.67"/>
<rect x="429.75" y="99.28" width="4.71" height="1.1" fill="#E86A6A" opacity="0.39"/>
<rect x="296.73" y="101.41" width="4.77" height="1.1" fill="#444" opacity="0.7"/>
<rect x="305.34" y="101.41" width="4.61" height="1.1" fill="#555" opacity="0.57"/>
<rect x="314.08" y="101.41" width="4.92" height="1.1" fill="#555" opacity="0.49"/>
<rect x="323.72" y="101.41" width="3.42" height="1.1" fill="#555" opacity="0.69"/>
<rect x="332.52" y="101.41" width="3.6" height="1.1" fill="#555" opacity="0.36"/>
<rect x="341.21" y="101.41" width="3.98" height="1.1" fill="#555" opacity="0.67"/>
<rect x="349.39" y="101.41" width="5.41" height="1.1" fill="#555" opacity="0.37"/>
<rect x="358.47" y="101.41" width="5.03" height="1.1" fill="#555" opacity="0.58"/>
<rect x="368.32" y="101.41" width="3.11" height="1.1" fill="#555" opacity="0.4"/>
<rect x="375.91" y="101.41" width="5.71" height="1.1" fill="#555" opacity="0.59"/>
<rect x="387.05" y="101.41" width="1.2" height="1.1" fill="#555" opacity="0.62"/>
<rect x="394.6" y="101.41" width="3.9" height="1.1" fill="#555" opacity="0.44"/>
<rect x="403.25" y="101.41" width="4.36" height="1.1" fill="#555" opacity="0.41"/>
<rect x="412.64" y="101.41" width="3.37" height="1.1" fill="#555" opacity="0.35"/>
<rect x="421.46" y="101.41" width="3.52" height="1.1" fill="#555" opacity="0.36"/>
<rect x="430.31" y="101.41" width="3.59" height="1.1" fill="#555" opacity="0.65"/>
<rect x="272.7" y="110" width="163.8" height="0.35" fill="#9bb3cc"/>
<rect x="289" y="108" width="147.5" height="2" fill="#DCE9F6"/>
<rect x="273.5" y="104.7" width="15" height="1.1" fill="#333" opacity="0.8"/>
<rect x="280" y="107.3" width="8.5" height="1.1" fill="#333" opacity="0.8"/>
<rect x="297.08" y="104.4" width="4.42" height="1.1" fill="#444" opacity="0.7"/>
<rect x="305.51" y="104.4" width="4.26" height="1.1" fill="#555" opacity="0.38"/>
<rect x="313.82" y="104.4" width="5.43" height="1.1" fill="#555" opacity="0.57"/>
<rect x="323.45" y="104.4" width="3.95" height="1.1" fill="#555" opacity="0.64"/>
<rect x="331.92" y="104.4" width="4.79" height="1.1" fill="#555" opacity="0.4"/>
<rect x="341.65" y="104.4" width="3.11" height="1.1" fill="#555" opacity="0.6"/>
<rect x="350.41" y="104.4" width="3.37" height="1.1" fill="#555" opacity="0.65"/>
<rect x="358.91" y="104.4" width="4.16" height="1.1" fill="#555" opacity="0.4"/>
<rect x="367.17" y="104.4" width="5.42" height="1.1" fill="#555" opacity="0.47"/>
<rect x="376.57" y="104.4" width="4.39" height="1.1" fill="#555" opacity="0.46"/>
<rect x="387.05" y="104.4" width="1.2" height="1.1" fill="#555" opacity="0.69"/>
<rect x="393.75" y="104.4" width="5.58" height="1.1" fill="#555" opacity="0.58"/>
<rect x="403.26" y="104.4" width="4.35" height="1.1" fill="#555" opacity="0.45"/>
<rect x="412.56" y="104.4" width="3.54" height="1.1" fill="#E86A6A" opacity="0.7"/>
<rect x="420.38" y="104.4" width="5.67" height="1.1" fill="#555" opacity="0.38"/>
<rect x="429.31" y="104.4" width="5.58" height="1.1" fill="#E86A6A" opacity="0.6"/>
<rect x="294.56" y="106.53" width="6.94" height="1.1" fill="#444" opacity="0.7"/>
<rect x="306.15" y="106.53" width="2.99" height="1.1" fill="#555" opacity="0.63"/>
<rect x="314.86" y="106.53" width="3.36" height="1.1" fill="#555" opacity="0.35"/>
<rect x="323.18" y="106.53" width="4.5" height="1.1" fill="#555" opacity="0.42"/>
<rect x="331.5" y="106.53" width="5.63" height="1.1" fill="#555" opacity="0.43"/>
<rect x="341.53" y="106.53" width="3.35" height="1.1" fill="#555" opacity="0.41"/>
<rect x="351.49" y="106.53" width="1.2" height="1.1" fill="#555" opacity="0.42"/>
<rect x="359.38" y="106.53" width="3.2" height="1.1" fill="#555" opacity="0.56"/>
<rect x="368" y="106.53" width="3.75" height="1.1" fill="#555" opacity="0.42"/>
<rect x="376.25" y="106.53" width="5.03" height="1.1" fill="#555" opacity="0.63"/>
<rect x="385.88" y="106.53" width="3.54" height="1.1" fill="#555" opacity="0.37"/>
<rect x="395.94" y="106.53" width="1.2" height="1.1" fill="#555" opacity="0.6"/>
<rect x="402.77" y="106.53" width="5.33" height="1.1" fill="#555" opacity="0.47"/>
<rect x="411.58" y="106.53" width="5.49" height="1.1" fill="#E86A6A" opacity="0.36"/>
<rect x="421.04" y="106.53" width="4.35" height="1.1" fill="#555" opacity="0.66"/>
<rect x="430.36" y="106.53" width="3.49" height="1.1" fill="#555" opacity="0.48"/>
<rect x="296.39" y="108.66" width="5.11" height="1.1" fill="#444" opacity="0.7"/>
<rect x="305.3" y="108.66" width="4.7" height="1.1" fill="#555" opacity="0.35"/>
<rect x="314.41" y="108.66" width="4.26" height="1.1" fill="#555" opacity="0.53"/>
<rect x="322.9" y="108.66" width="5.05" height="1.1" fill="#555" opacity="0.64"/>
<rect x="332.37" y="108.66" width="3.89" height="1.1" fill="#555" opacity="0.6"/>
<rect x="340.63" y="108.66" width="5.16" height="1.1" fill="#555" opacity="0.37"/>
<rect x="349.22" y="108.66" width="5.75" height="1.1" fill="#555" opacity="0.52"/>
<rect x="360.38" y="108.66" width="1.2" height="1.1" fill="#555" opacity="0.54"/>
<rect x="366.98" y="108.66" width="5.79" height="1.1" fill="#555" opacity="0.43"/>
<rect x="377.14" y="108.66" width="3.25" height="1.1" fill="#555" opacity="0.44"/>
<rect x="386.14" y="108.66" width="3.03" height="1.1" fill="#555" opacity="0.38"/>
<rect x="394.79" y="108.66" width="3.52" height="1.1" fill="#555" opacity="0.36"/>
<rect x="403.11" y="108.66" width="4.64" height="1.1" fill="#555" opacity="0.53"/>
<rect x="413.72" y="108.66" width="1.2" height="1.1" fill="#555" opacity="0.6"/>
<rect x="421.56" y="108.66" width="3.31" height="1.1" fill="#555" opacity="0.52"/>
<rect x="430.22" y="108.66" width="3.77" height="1.1" fill="#E86A6A" opacity="0.49"/>
<rect x="289" y="34" width="0.3" height="76.2" fill="#c5ccd6"/>
<rect x="303.2" y="34" width="0.3" height="76.2" fill="#c5ccd6"/>
<rect x="272.7" y="34" width="0.3" height="76.2" fill="#c5ccd6"/>
<rect x="436.3" y="34" width="0.3" height="76.2" fill="#c5ccd6"/>
</g>
</svg>
<div class="sd" style="top:9.6px;left:12.6px">数</div>
<div class="sd" style="top:32.65px;left:12.6px">据</div>
<div class="sd" style="top:55.7px;left:12.6px">展</div>
<div class="sd" style="top:78.75px;left:12.6px">现</div>
<div class="sd" style="top:101.8px;left:12.6px">层</div>
<div class="sd" style="top:166.3px;left:12.6px">数</div>
<div class="sd" style="top:189.35px;left:12.6px">据</div>
<div class="sd" style="top:212.4px;left:12.6px">分</div>
<div class="sd" style="top:235.45px;left:12.6px">析</div>
<div class="sd" style="top:258.5px;left:12.6px">层</div>
<div class="sd" style="top:331.5px;left:12.6px">数</div>
<div class="sd" style="top:354.55px;left:12.6px">据</div>
<div class="sd" style="top:377.6px;left:12.6px">整</div>
<div class="sd" style="top:400.65px;left:12.6px">合</div>
<div class="sd" style="top:423.7px;left:12.6px">层</div>
<div class="bt" style="left:74.6px;top:158.4px;width:106.05px;height:31.6px;line-height:35px">财务专题</div>
<div class="bt" style="left:223.5px;top:159.1px;width:105.25px;height:31.1px;line-height:34.5px">理赔专题</div>
<div class="bt" style="left:370.3px;top:159.1px;width:105.25px;height:31.1px;line-height:34.5px">续期专题</div>
<div class="bt" style="left:517.1px;top:159.1px;width:105.25px;height:31.1px;line-height:34.5px">企划专题</div>
<div class="bt" style="left:75.5px;top:208.8px;width:104.55px;height:31.7px;line-height:35.1px">保全专题</div>
<div class="bt" style="left:222.5px;top:206.7px;width:105.65px;height:31.8px;line-height:35.2px">精算专题</div>
<div class="bt" style="left:369.3px;top:206.7px;width:104.95px;height:31.2px;line-height:34.6px">个险专题</div>
<div class="bt" style="left:517.1px;top:207.4px;width:104.55px;height:31.1px;line-height:34.5px">客服专题</div>
<div class="bt" style="left:75.8px;top:258.1px;width:104.15px;height:30.6px;line-height:34px">团险专题</div>
<div class="bt" style="left:222.5px;top:257.9px;width:104.95px;height:30.5px;line-height:33.9px">银保专题</div>
<div class="bt" style="left:370.9px;top:258.2px;width:104.95px;height:31.2px;line-height:34.6px">经代专题</div>
<div class="bt" style="left:518.4px;top:258.2px;width:105.55px;height:30.9px;line-height:34.3px">其他专题</div>
<div class="tx song" id="core" style="left:154.2px;top:342.2px;font-size:16px;font-weight:400;color:#3e6228;letter-spacing:0.85px;">核心系统</div>
<div class="tx hei" id="ex_l" style="left:115px;top:439.6px;font-size:12.1px;font-weight:400;color:#3a5b24;transform:scaleX(0.865);transform-origin:0 0;">Excel</div>
<div class="tx hei" id="ex_c" style="left:140.9px;top:440.3px;font-size:12px;font-weight:300;color:#456a2b;letter-spacing:0.6px;">手工数据</div>
<div class="tx hei" id="rp_l" style="left:213px;top:437px;font-size:13.2px;font-weight:400;color:#3a5b24;transform:scaleX(0.995);transform-origin:0 0;">i@Report</div>
<div class="tx hei" id="rp_c" style="left:270px;top:437.3px;font-size:14px;font-weight:300;color:#45692b;letter-spacing:0.3px;">补录</div>
<div class="tx hei lat" id="et_l" style="left:351.6px;top:334.8px;font-size:15.8px;font-weight:400;color:#34521f;transform:scaleX(0.955);transform-origin:0 0;">ETL</div>
<div class="tx song" id="et_c" style="left:379.3px;top:333.6px;font-size:18.3px;font-weight:400;color:#3e6228;letter-spacing:0.3px;">抽取</div>
<div class="tx hei" id="cd_l" style="left:507.4px;top:406.6px;font-size:15.4px;font-weight:700;color:#2f4d1c;transform:scaleX(0.965);transform-origin:0 0;">CDM</div>
<div class="tx song" id="cd_c" style="left:542.3px;top:407.8px;font-size:15.8px;font-weight:600;color:#385723;letter-spacing:1.05px;">数据仓库</div>
</body></html>
